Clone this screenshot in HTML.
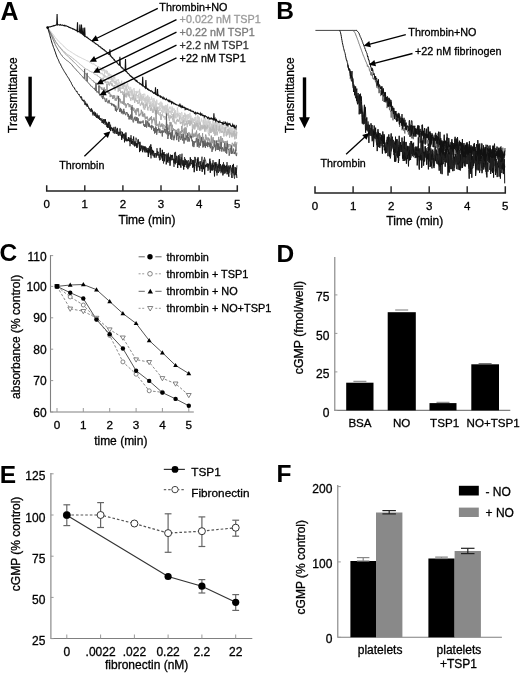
<!DOCTYPE html>
<html><head><meta charset="utf-8"><style>
html,body{margin:0;padding:0;background:#fff;}
svg{display:block;filter:grayscale(100%);}
text{font-family:"Liberation Sans",sans-serif;}
</style></head><body>
<svg width="520" height="673" viewBox="0 0 520 673">
<rect width="520" height="673" fill="#fff"/>
<text x="0.4" y="19.6" font-size="25" text-anchor="start" fill="#000" font-weight="bold">A</text>
<text transform="translate(17.1 95.2) rotate(-90)" font-size="12" text-anchor="middle" fill="#000" stroke="#000" stroke-width="0.3">Transmittance</text>
<rect x="28.4" y="76.7" width="3.4" height="41" fill="#000"/>
<polygon points="24.6,116.6 35.5,116.6 30.05,127.6" fill="#000"/>
<path d="M46.7 185.3V190.9H237.3V185.3" fill="none" stroke="#222" stroke-width="1.5"/>
<line x1="84.8" y1="185.3" x2="84.8" y2="190.9" stroke="#222" stroke-width="1.4"/>
<line x1="122.9" y1="185.3" x2="122.9" y2="190.9" stroke="#222" stroke-width="1.4"/>
<line x1="161" y1="185.3" x2="161" y2="190.9" stroke="#222" stroke-width="1.4"/>
<line x1="199.1" y1="185.3" x2="199.1" y2="190.9" stroke="#222" stroke-width="1.4"/>
<text x="46.7" y="208" font-size="11.5" text-anchor="middle" fill="#000" stroke="#000" stroke-width="0.3">0</text>
<text x="84.8" y="208" font-size="11.5" text-anchor="middle" fill="#000" stroke="#000" stroke-width="0.3">1</text>
<text x="122.9" y="208" font-size="11.5" text-anchor="middle" fill="#000" stroke="#000" stroke-width="0.3">2</text>
<text x="161" y="208" font-size="11.5" text-anchor="middle" fill="#000" stroke="#000" stroke-width="0.3">3</text>
<text x="199.1" y="208" font-size="11.5" text-anchor="middle" fill="#000" stroke="#000" stroke-width="0.3">4</text>
<text x="237.2" y="208" font-size="11.5" text-anchor="middle" fill="#000" stroke="#000" stroke-width="0.3">5</text>
<text x="147" y="224.2" font-size="12" text-anchor="middle" fill="#000" stroke="#000" stroke-width="0.3">Time (min)</text>
<path d="M47.5 27.4L47.9 28L48.2 28.4L48.6 28.7L48.9 29.1L49.3 29.6L49.6 30.1L50 30.5L50.3 30.8L50.7 31.2L51 31.8L51.4 32.2L51.7 32.7L52.1 33.1L52.4 33.5L52.8 34L53.1 34.7L53.5 34.9L53.8 35.4L54.2 35.8L54.5 36.4L54.9 36.9L55.2 37.4L55.6 37.8L55.9 38.3L56.3 38.8L56.6 39.2L57 39.5L57.3 39.7L57.7 40.3L58 40.5L58.4 41L58.7 41.2L59.1 41.7L59.4 42L59.8 42.4L60.1 43L60.5 43.1L60.8 43.5L61.2 43.6L61.5 44.1L61.9 44.5L62.2 44.8L62.6 45.1L62.9 45.4L63.3 45.7L63.6 46.2L64 46.3L64.3 47L64.7 47.1L65 47.5L65.4 47.8L65.7 48.2L66.1 48.4L66.4 48.8L66.8 49L67.1 49.5L67.5 49.7L67.8 49.9L68.2 50L68.5 50.4L68.9 50.6L69.2 51L69.6 51L69.9 51.3L70.3 51.6L70.6 51.7L71 52L71.3 52.2L71.7 52.3L72 52.5L72.4 52.8L72.7 53.1L73.1 53.4L73.4 53.6L73.8 53.8L74.1 54L74.5 54.2L74.8 54.3L75.2 54.6L75.5 54.9L75.9 54.8L76.2 55L76.6 55.5L76.9 55.5L77.3 55.8L77.6 56L78 55.9L78.3 56.6L78.7 56.7L79 56.7L79.4 57L79.7 57.1L80.1 57.1L80.4 57.4L80.8 57.7L81.1 58L81.5 58.1L81.8 58.2L82.2 58.5L82.5 58.4L82.9 58.8L83.2 59L83.6 59L83.9 58.9L84.3 59.2L84.6 59.6L85 59.8L85.3 60.1L85.7 59.9L86 60.2L86.4 60.5L86.7 60.5L87.1 60.4L87.4 61L87.8 61.4L88.1 61.4L88.5 61.2L88.8 61.5L89.2 61.8L89.5 62.5L89.9 62.3L90.2 62.4L90.6 63L90.9 62.7L91.3 63.5L91.6 62.8L92 63.1L92.3 63.7L92.7 64.2L93 64.1L93.4 64.2L93.7 63.4L94.1 64.1L94.4 64.3L94.8 64.5L95.1 65.3L95.5 65L95.8 65.9L96.2 65.7L96.5 65.6L96.9 66.1L97.2 66.5L97.6 67L97.9 66.3L98.3 66.7L98.6 66.1L99 68.5L99.3 68.7L99.7 67.6L100 67.6L100.4 67.2L100.7 68.6L101.1 68.9L101.4 70.9L101.8 69.4L102.1 68.7L102.5 67.5L102.8 71.3L103.2 70.4L103.5 68.9L103.9 70.9L104.2 69.3L104.6 73.8L104.9 72.8L105.3 72.5L105.6 71.9L106 69.9L106.3 72.5L106.7 71.1L107 73.9L107.4 70.9L107.7 72.7L108.1 75.5L108.4 76.3L108.8 73.1L109.1 72.9L109.5 76.2L109.8 76.4L110.2 74.3L110.5 75L110.9 75.2L111.2 74.8L111.6 75.8L111.9 78.7L112.3 78.2L112.6 80.3L113 77.7L113.3 77.9L113.7 77L114 78.5L114.4 77L114.7 76.6L115.1 80.5L115.4 81.9L115.8 81.2L116.1 82.3L116.5 80.9L116.8 79.7L117.2 81.2L117.5 80.7L117.9 79.8L118.2 79.1L118.6 79.7L118.9 82.3L119.3 82.8L119.6 82L120 85.3L120.3 83.5L120.7 84.4L121 85.7L121.4 82.4L121.7 80.7L122.1 85.5L122.4 83.3L122.8 86.9L123.1 85.4L123.5 86.8L123.8 86.6L124.2 81.7L124.5 86.9L124.9 84.6L125.2 84.7L125.6 85.4L125.9 87.8L126.3 88.3L126.6 88.7L127 83.9L127.3 86.1L127.7 83L128 87.4L128.4 88.9L128.7 86.4L129.1 88.6L129.4 88.8L129.8 90.5L130.1 87L130.5 87.2L130.8 87.5L131.2 92.8L131.5 91.6L131.9 89.4L132.2 90.2L132.6 90.2L132.9 90.6L133.3 89.9L133.6 89.8L134 88.1L134.3 89.6L134.7 94.5L135 92.4L135.4 91.6L135.7 91.2L136.1 92L136.4 92.8L136.8 90.9L137.1 92.8L137.5 93.1L137.8 91.2L138.2 91.3L138.5 91.1L138.9 91.1L139.2 95.4L139.6 88.9L139.9 93.4L140.3 92.8L140.6 93L141 94.8L141.3 97.2L141.7 95.1L142 94.9L142.4 94.1L142.7 95.3L143.1 97.8L143.4 95.2L143.8 93.8L144.1 93.7L144.5 94.3L144.8 93.9L145.2 99.5L145.5 98.1L145.9 97L146.2 101L146.6 96.5L146.9 99.9L147.3 100.2L147.6 95.2L148 95.4L148.3 97L148.7 101.3L149 102.3L149.4 96.9L149.7 102.2L150.1 99.2L150.4 99.3L150.8 99.2L151.1 99.9L151.5 96.7L151.8 98.7L152.2 98.4L152.5 102.5L152.9 106.3L153.2 107L153.6 101.1L153.9 98.1L154.3 101.3L154.6 100.3L155 107.2L155.3 104.1L155.7 101.3L156 105.3L156.4 104.6L156.7 99.7L157.1 102.4L157.4 103.3L157.8 104L158.1 104.5L158.5 103.5L158.8 104.9L159.2 103.2L159.5 102.7L159.9 108.5L160.2 105.9L160.6 106.3L160.9 101.6L161.3 105.1L161.6 107.7L162 102.7L162.3 108.6L162.7 105.2L163 107.3L163.4 106.1L163.7 107.1L164.1 109.7L164.4 105.9L164.8 110.9L165.1 105.3L165.5 105.1L165.8 109.3L166.2 105.1L166.5 106.9L166.9 110.2L167.2 111.1L167.6 103.9L167.9 109.7L168.3 113.3L168.6 111.7L169 108.3L169.3 107.5L169.7 108.5L170 106.5L170.4 108.8L170.7 109.2L171.1 109.4L171.4 112.9L171.8 109.5L172.1 106.6L172.5 113L172.8 107.9L173.2 109.6L173.5 110.5L173.9 110.1L174.2 108.6L174.6 110.7L174.9 117L175.3 110.1L175.6 111.4L176 114.7L176.3 113.9L176.7 114.1L177 114.5L177.4 107.5L177.7 110.5L178.1 113.1L178.4 114.2L178.8 116.4L179.1 114.4L179.5 112.8L179.8 113.6L180.2 113.1L180.5 114.4L180.9 115.7L181.2 113.2L181.6 112.2L181.9 112.2L182.3 117.3L182.6 117.9L183 117.4L183.3 117.1L183.7 117.2L184 115.2L184.4 117.1L184.7 112.8L185.1 115.2L185.4 113.9L185.8 117.8L186.1 114.6L186.5 116L186.8 117.4L187.2 120L187.5 114.6L187.9 114.4L188.2 119L188.6 114.2L188.9 118.4L189.3 115.9L189.6 117.2L190 112.9L190.3 119.6L190.7 116.6L191 115.7L191.4 123.5L191.7 120.1L192.1 124.3L192.4 119.6L192.8 117.8L193.1 119.1L193.5 123.1L193.8 119L194.2 120.4L194.5 120.7L194.9 117.1L195.2 119.9L195.6 118.4L195.9 116.6L196.3 122.2L196.6 121.8L197 120.4L197.3 117.9L197.7 115.2L198 121.8L198.4 120.4L198.7 116.4L199.1 120.7L199.4 117L199.8 121L200.1 121.6L200.5 122.2L200.8 122L201.2 121.9L201.5 118.6L201.9 120.7L202.2 120.4L202.6 121.3L202.9 122.7L203.3 123.7L203.6 126.5L204 116.2L204.3 123.4L204.7 121.9L205 128.5L205.4 125.1L205.7 118.4L206.1 123.9L206.4 121.5L206.8 125.6L207.1 120.3L207.5 122.9L207.8 122.9L208.2 123.1L208.5 121.9L208.9 118.6L209.2 124.8L209.6 126.3L209.9 123.6L210.3 121.1L210.6 124.5L211 125.5L211.3 123.6L211.7 124.1L212 128L212.4 121.4L212.7 122.9L213.1 119.4L213.4 122.7L213.8 122.7L214.1 122.2L214.5 123L214.8 129.7L215.2 124.5L215.5 124.8L215.9 131.1L216.2 125.1L216.6 120.7L216.9 126.5L217.3 123L217.6 130L218 122.4L218.3 124.2L218.7 121.6L219 126.2L219.4 123.3L219.7 126L220.1 125.2L220.4 124.6L220.8 128.9L221.1 129L221.5 126.7L221.8 124.2L222.2 123.8L222.5 127.5L222.9 133.1L223.2 125.7L223.6 124.9L223.9 125.2L224.3 124.2L224.6 124.6L225 126.8L225.3 131.3L225.7 127.5L226 126.2L226.4 123.3L226.7 128.3L227.1 127.7L227.4 124.5L227.8 125L228.1 127.9L228.5 130.9L228.8 129.9L229.2 128.8L229.5 127.5L229.9 129.3L230.2 128.5L230.6 134.5L230.9 125.6L231.3 127.7L231.6 132.3L232 128.1L232.3 132.8L232.7 128.9L233 129.5L233.4 128.2L233.7 125.5L234.1 126.7L234.4 135.5L234.8 131.3L235.1 131.2L235.5 132.3L235.8 131.3L236.2 132.6L236.5 129.2L236.9 129.4" stroke="#d0d0d0" stroke-width="1" fill="none"/>
<path d="M95 68.2L95.3 69.3L95.7 69.2L96 69.3L96.4 70.4L96.7 70L97.1 70L97.4 71.6L97.8 70.3L98.1 69.9L98.5 70L98.8 70.9L99.2 72L99.5 72.4L99.9 72.9L100.2 73.7L100.6 73.9L100.9 73.2L101.3 74.1L101.6 73.7L102 72.8L102.3 74.4L102.7 73.9L103 73.9L103.4 76.4L103.7 75.4L104.1 74.3L104.4 75L104.8 77.8L105.1 75.3L105.5 76.7L105.8 76.8L106.2 76.9L106.5 77.3L106.9 76.3L107.2 76.6L107.6 77.2L107.9 77.2L108.3 78.9L108.6 80L109 77.2L109.3 79.3L109.7 77.6L110 78.2L110.4 79L110.7 79.7L111.1 79.3L111.4 77L111.8 82.2L112.1 80.2L112.5 80L112.8 82.1L113.2 80.5L113.5 79.6L113.9 82.6L114.2 82.7L114.6 81.2L114.9 83.9L115.3 83.4L115.6 81.4L116 86L116.3 84L116.7 82.1L117 84.8L117.4 84.6L117.7 86.1L118.1 82.7L118.4 86.7L118.8 86.8L119.1 86.7L119.5 86.8L119.8 88.2L120.2 87.4L120.5 86.7L120.9 85.2L121.2 88.8L121.6 88.8L121.9 87.8L122.3 87.8L122.6 89L123 83.9L123.3 88.7L123.7 84.2L124 89L124.4 90.8L124.7 92.5L125.1 88.4L125.4 90.3L125.8 89.5L126.1 85.7L126.5 91.5L126.8 90.3L127.2 90.6L127.5 88.9L127.9 90.8L128.2 91.3L128.6 93.9L128.9 92.1L129.3 96.2L129.6 91.1L130 91.6L130.3 92.3L130.7 90.9L131 95.9L131.4 94.3L131.7 90.6L132.1 93.6L132.4 96L132.8 90.9L133.1 94.3L133.5 93.8L133.8 99.1L134.2 95.5L134.5 94L134.9 93.9L135.2 99.2L135.6 94.5L135.9 100.4L136.3 92.6L136.6 95.7L137 95.8L137.3 95L137.7 96.3L138 98.4L138.4 95.7L138.7 94.3L139.1 100.4L139.4 100.9L139.8 96.5L140.1 98.8L140.5 93.4L140.8 100.9L141.2 95.9L141.5 97.8L141.9 104L142.2 96.7L142.6 99.7L142.9 97.6L143.3 96.1L143.6 97.8L144 101.1L144.3 97.9L144.7 99.7L145 102.8L145.4 101.1L145.7 98.7L146.1 105.2L146.4 102.3L146.8 105.4L147.1 100.1L147.5 106.5L147.8 99.8L148.2 99.1L148.5 102.3L148.9 102.6L149.2 104.3L149.6 102.6L149.9 105.5L150.3 107.3L150.6 103L151 101.5L151.3 103.9L151.7 106.9L152 107.1L152.4 104.6L152.7 103.3L153.1 105.7L153.4 108.2L153.8 104.5L154.1 109.4L154.5 107L154.8 107.4L155.2 105.4L155.5 110.3L155.9 107.3L156.2 103.9L156.6 109.5L156.9 106.7L157.3 110.5L157.6 108.5L158 106.7L158.3 108.8L158.7 107.4L159 106.7L159.4 108.9L159.7 111L160.1 109.3L160.4 109.1L160.8 108.1L161.1 111L161.5 110.4L161.8 112.2L162.2 110.9L162.5 115.3L162.9 106.5L163.2 110.3L163.6 111.9L163.9 112.9L164.3 107.1L164.6 108L165 111L165.3 113.9L165.7 114.2L166 107.8L166.4 112L166.7 114.8L167.1 112.1L167.4 109.6L167.8 110.5L168.1 109.1L168.5 115.6L168.8 112.1L169.2 111.8L169.5 110.8L169.9 112.8L170.2 111L170.6 110.9L170.9 113.5L171.3 113.1L171.6 115L172 114.3L172.3 117.1L172.7 114.1L173 115.1L173.4 115.1L173.7 112.6L174.1 117.8L174.4 113.5L174.8 111.1L175.1 118.4L175.5 117L175.8 114.1L176.2 118.1L176.5 118.2L176.9 117.7L177.2 113L177.6 116.6L177.9 113.7L178.3 114.9L178.6 115.1L179 114.6L179.3 118.1L179.7 115L180 118.7L180.4 117.7L180.7 115.8L181.1 118L181.4 119.4L181.8 120.7L182.1 117.3L182.5 122.5L182.8 119.7L183.2 121.5L183.5 115L183.9 115.9L184.2 121.8L184.6 118.3L184.9 120.2L185.3 122.2L185.6 115.5L186 120.5L186.3 124.5L186.7 121.7L187 120L187.4 121.4L187.7 120L188.1 122.2L188.4 123.7L188.8 119.8L189.1 122L189.5 121.5L189.8 122.7L190.2 123.1L190.5 118.3L190.9 124.2L191.2 123.5L191.6 118.6L191.9 120.8L192.3 117.9L192.6 121L193 122.8L193.3 119L193.7 120.1L194 120L194.4 120.6L194.7 120.5L195.1 119.8L195.4 124.2L195.8 122.3L196.1 120.8L196.5 125.7L196.8 121.7L197.2 125.7L197.5 120.2L197.9 127.3L198.2 122.5L198.6 121.3L198.9 125L199.3 120.5L199.6 121.3L200 124.8L200.3 123L200.7 125.5L201 124.9L201.4 125.3L201.7 125.1L202.1 126.7L202.4 124.9L202.8 127.9L203.1 127.6L203.5 120L203.8 120.7L204.2 129.5L204.5 124.3L204.9 126.1L205.2 125.4L205.6 126.5L205.9 131.7L206.3 124.1L206.6 126.2L207 126.2L207.3 123.4L207.7 124L208 125.7L208.4 126.5L208.7 127.6L209.1 121.5L209.4 122.6L209.8 131.2L210.1 126.5L210.5 129.2L210.8 126L211.2 125.3L211.5 132.9L211.9 124.1L212.2 125L212.6 129.3L212.9 127.7L213.3 123.3L213.6 128.2L214 129.8L214.3 123.9L214.7 126.5L215 130.2L215.4 133.3L215.7 122L216.1 126.5L216.4 128.5L216.8 126.1L217.1 126.2L217.5 127.3L217.8 130.1L218.2 126L218.5 131.2L218.9 131.2L219.2 131.4L219.6 133.3L219.9 127.8L220.3 129.1L220.6 132.1L221 132.9L221.3 132L221.7 128.4L222 128.3L222.4 126.2L222.7 128.6L223.1 127.4L223.4 128.6L223.8 129L224.1 132.3L224.5 132.5L224.8 130.1L225.2 127.2L225.5 130.2L225.9 131.6L226.2 132.8L226.6 131.1L226.9 132.8L227.3 128.9L227.6 132.5L228 132.8L228.3 129.9L228.7 128.9L229 134.4L229.4 128.4L229.7 133L230.1 130.5L230.4 130.4L230.8 130.7L231.1 130.2L231.5 131.4L231.8 136.5L232.2 135.6L232.5 131.3L232.9 133.1L233.2 134.3L233.6 130.8L233.9 137L234.3 132.1L234.6 133.8L235 129.6L235.3 129.2L235.7 129.6L236 130.6L236.4 135.3L236.7 131.7" stroke="#cacaca" stroke-width="1" fill="none"/>
<path d="M47.5 27.5L47.9 28.2L48.2 28.6L48.6 29.1L48.9 29.8L49.3 30.4L49.6 31L50 31.6L50.3 32.1L50.7 32.7L51 33.2L51.4 33.9L51.7 34.5L52.1 35.2L52.4 35.8L52.8 36.2L53.1 37.1L53.5 37.7L53.8 38.4L54.2 39.1L54.5 39.7L54.9 40.2L55.2 41L55.6 41.4L55.9 42.3L56.3 42.6L56.6 43.1L57 43.8L57.3 43.9L57.7 44.6L58 44.9L58.4 45.4L58.7 45.8L59.1 46.4L59.4 46.7L59.8 47.2L60.1 47.6L60.5 47.8L60.8 48.4L61.2 48.7L61.5 48.9L61.9 49.3L62.2 49.9L62.6 50.2L62.9 50.4L63.3 50.8L63.6 51.1L64 51.5L64.3 51.7L64.7 52.1L65 52.2L65.4 52.5L65.7 53L66.1 53.3L66.4 53.5L66.8 53.8L67.1 54L67.5 54.4L67.8 54.7L68.2 54.9L68.5 55.2L68.9 55.3L69.2 55.5L69.6 55.6L69.9 56.1L70.3 56.3L70.6 56.7L71 56.6L71.3 57L71.7 57.3L72 57.4L72.4 58L72.7 58.3L73.1 58.3L73.4 58.8L73.8 59.2L74.1 59.1L74.5 59.7L74.8 60L75.2 60.4L75.5 60.2L75.9 60.6L76.2 61L76.6 61.4L76.9 61.4L77.3 61.8L77.6 62L78 62.6L78.3 62.7L78.7 63.2L79 63.5L79.4 63.8L79.7 64L80.1 64.3L80.4 64.7L80.8 64.9L81.1 65L81.5 65.4L81.8 65.9L82.2 66L82.5 66.3L82.9 66.6L83.2 67.2L83.6 67.1L83.9 67.5L84.3 67.7L84.6 67.9L85 68.4L85.3 68.6L85.7 68.8L86 68.7L86.4 69.3L86.7 69.5L87.1 69.6L87.4 69.4L87.8 70L88.1 70L88.5 70.3L88.8 70.4L89.2 70.5L89.5 71.1L89.9 71.1L90.2 71.6L90.6 71.1L90.9 71.5L91.3 72.2L91.6 72.1L92 71.9L92.3 72L92.7 72.3L93 72.7L93.4 73.3L93.7 73.3L94.1 73.8L94.4 74.1L94.8 74L95.1 74.9L95.5 74.8L95.8 74.5L96.2 74.8L96.5 75.1L96.9 74.9L97.2 74.7L97.6 75.9L97.9 75.8L98.3 76.8L98.6 76.2L99 77L99.3 77.3L99.7 77L100 77.8L100.4 77.2L100.7 77.7L101.1 79L101.4 78.9L101.8 78.8L102.1 78.2L102.5 79.9L102.8 81.5L103.2 77.5L103.5 81L103.9 80.4L104.2 81.6L104.6 81.9L104.9 79.7L105.3 83.1L105.6 80.6L106 81.3L106.3 82.5L106.7 81.9L107 82.5L107.4 81.8L107.7 81.4L108.1 82.9L108.4 81.8L108.8 85.1L109.1 83.9L109.5 85.6L109.8 82.4L110.2 81.5L110.5 81.4L110.9 84.2L111.2 83.1L111.6 85.6L111.9 83.3L112.3 83.6L112.6 86.1L113 85.4L113.3 87.1L113.7 87.5L114 87.1L114.4 85L114.7 85.7L115.1 90.4L115.4 87L115.8 88L116.1 88L116.5 88L116.8 87.9L117.2 87.5L117.5 87.8L117.9 85.6L118.2 91.8L118.6 89.1L118.9 87.3L119.3 90.6L119.6 91L120 87.7L120.3 89.5L120.7 93.1L121 91.7L121.4 91.8L121.7 93L122.1 91.3L122.4 91.2L122.8 94.8L123.1 91.8L123.5 92.3L123.8 93.8L124.2 92.9L124.5 90.8L124.9 96.8L125.2 93.4L125.6 97.2L125.9 95L126.3 92.5L126.6 97.4L127 94.4L127.3 93.3L127.7 95.1L128 91.2L128.4 96.4L128.7 94.4L129.1 95.6L129.4 94.5L129.8 97.9L130.1 97.5L130.5 99.2L130.8 100.7L131.2 98.1L131.5 97.9L131.9 98.6L132.2 96.5L132.6 97.3L132.9 100.2L133.3 97.1L133.6 95L134 98.6L134.3 100.1L134.7 102.9L135 98.5L135.4 98.2L135.7 100.7L136.1 100.4L136.4 101.4L136.8 100L137.1 101.8L137.5 100.3L137.8 103.9L138.2 102.6L138.5 103.5L138.9 101.5L139.2 99.6L139.6 103L139.9 103L140.3 105.8L140.6 105.7L141 103.7L141.3 103.9L141.7 102.1L142 104.4L142.4 105.2L142.7 104L143.1 102.7L143.4 108.2L143.8 103.5L144.1 109.5L144.5 108.6L144.8 109.6L145.2 104.5L145.5 108L145.9 103.7L146.2 106.2L146.6 103.8L146.9 105.8L147.3 106.5L147.6 110L148 110.5L148.3 107.4L148.7 107.8L149 106.5L149.4 106.2L149.7 105L150.1 108.7L150.4 110.8L150.8 107.9L151.1 110.7L151.5 107.3L151.8 107.9L152.2 109.2L152.5 112.6L152.9 109.5L153.2 112.7L153.6 110.3L153.9 108.7L154.3 106.8L154.6 110.6L155 109.6L155.3 114.2L155.7 113.3L156 108.5L156.4 114.6L156.7 114L157.1 107.3L157.4 110.6L157.8 113.8L158.1 109.6L158.5 111.8L158.8 115L159.2 114.5L159.5 115.1L159.9 115.6L160.2 112.2L160.6 119.7L160.9 115.8L161.3 119.9L161.6 114.2L162 116.3L162.3 115.9L162.7 114.9L163 116.1L163.4 116.1L163.7 117.6L164.1 116.5L164.4 116L164.8 117.2L165.1 119.7L165.5 116.5L165.8 117.9L166.2 116.9L166.5 111.8L166.9 114.6L167.2 114.7L167.6 113.6L167.9 115.7L168.3 113L168.6 118.2L169 116.3L169.3 120.8L169.7 118.9L170 114.8L170.4 117.6L170.7 118.4L171.1 116.7L171.4 117.6L171.8 115.9L172.1 117L172.5 119.6L172.8 118.2L173.2 122.2L173.5 114L173.9 117.4L174.2 118.6L174.6 123.4L174.9 122.7L175.3 121.9L175.6 122.6L176 124.3L176.3 122.1L176.7 119.9L177 121.1L177.4 118.9L177.7 120.3L178.1 121.9L178.4 119.8L178.8 121.5L179.1 120.2L179.5 118.1L179.8 117.9L180.2 123.5L180.5 121.9L180.9 124.1L181.2 121.8L181.6 122.2L181.9 123L182.3 121.6L182.6 126.1L183 125.2L183.3 123.8L183.7 120.2L184 121.7L184.4 123.7L184.7 126.2L185.1 123.3L185.4 123.4L185.8 125L186.1 124L186.5 123.4L186.8 121.1L187.2 127.2L187.5 124.1L187.9 123L188.2 124.2L188.6 121.1L188.9 120.3L189.3 120.2L189.6 125.8L190 121.6L190.3 125.4L190.7 122.1L191 120.7L191.4 123.8L191.7 123.6L192.1 123.9L192.4 130.2L192.8 126.4L193.1 124.4L193.5 128.3L193.8 125.4L194.2 129.4L194.5 122.4L194.9 129.3L195.2 123.8L195.6 124.8L195.9 127.3L196.3 124.1L196.6 122.8L197 126.1L197.3 126.4L197.7 123L198 129.9L198.4 125.3L198.7 126L199.1 127.1L199.4 127.9L199.8 130.6L200.1 122.3L200.5 128L200.8 130.4L201.2 128.8L201.5 128L201.9 125.4L202.2 129.3L202.6 127.2L202.9 128.9L203.3 125.9L203.6 127.9L204 128.4L204.3 125L204.7 131.6L205 128.7L205.4 125.7L205.7 128.5L206.1 129.5L206.4 128.4L206.8 126.6L207.1 128.8L207.5 125.9L207.8 125.2L208.2 132.7L208.5 134.2L208.9 134.7L209.2 135.8L209.6 133.5L209.9 127.5L210.3 128.5L210.6 133L211 128.9L211.3 129.3L211.7 130.3L212 131.5L212.4 126.8L212.7 130.6L213.1 131.9L213.4 125.2L213.8 133.7L214.1 132.9L214.5 128.7L214.8 135.8L215.2 132.2L215.5 132.4L215.9 135.3L216.2 125.1L216.6 131.4L216.9 134.3L217.3 135.3L217.6 131.5L218 131.1L218.3 129.6L218.7 130.9L219 129.5L219.4 125.7L219.7 130.4L220.1 129.4L220.4 130.5L220.8 131L221.1 131L221.5 132.6L221.8 132.2L222.2 131.5L222.5 130.9L222.9 132.4L223.2 131.9L223.6 132.4L223.9 136.6L224.3 133.6L224.6 131.9L225 127.5L225.3 129.2L225.7 127L226 135.7L226.4 136.3L226.7 132.3L227.1 132.2L227.4 134.8L227.8 135.2L228.1 129L228.5 133.1L228.8 133L229.2 130.5L229.5 137.8L229.9 136.1L230.2 132.5L230.6 134.1L230.9 132.8L231.3 132.9L231.6 133.3L232 137.3L232.3 134.6L232.7 133.3L233 132.8L233.4 135.5L233.7 132.4L234.1 130.5L234.4 134.6L234.8 139.4L235.1 133.2L235.5 135.6L235.8 134.7L236.2 138.7L236.5 136.7L236.9 132" stroke="#b8b8b8" stroke-width="1" fill="none"/>
<path d="M47.5 27.6L47.9 28.2L48.2 28.6L48.6 29.1L48.9 29.8L49.3 30.5L49.6 31L50 31.4L50.3 32.1L50.7 32.8L51 33.2L51.4 34L51.7 34.5L52.1 35.1L52.4 35.8L52.8 36.3L53.1 37L53.5 37.8L53.8 38.3L54.2 38.9L54.5 39.5L54.9 40.2L55.2 41L55.6 41.6L55.9 42.1L56.3 42.7L56.6 43.2L57 43.7L57.3 44.2L57.7 44.6L58 45.2L58.4 45.5L58.7 45.8L59.1 46.3L59.4 46.9L59.8 47.3L60.1 47.7L60.5 48.1L60.8 48.7L61.2 49.1L61.5 49.6L61.9 49.8L62.2 50.3L62.6 50.8L62.9 51.2L63.3 51.7L63.6 51.9L64 52.3L64.3 52.7L64.7 53.1L65 53.5L65.4 53.9L65.7 54.3L66.1 54.6L66.4 54.9L66.8 55.3L67.1 55.5L67.5 56L67.8 56.2L68.2 56.6L68.5 56.8L68.9 57.3L69.2 57.5L69.6 57.9L69.9 58.1L70.3 58.5L70.6 59L71 59L71.3 59.6L71.7 59.9L72 60.1L72.4 60.4L72.7 61.1L73.1 61.2L73.4 61.7L73.8 61.9L74.1 62.1L74.5 62.7L74.8 63L75.2 63.2L75.5 63.6L75.9 64L76.2 64.2L76.6 64.6L76.9 65L77.3 65.5L77.6 65.8L78 66.1L78.3 66.6L78.7 66.7L79 67L79.4 67.8L79.7 67.7L80.1 68.2L80.4 68.6L80.8 68.9L81.1 69.2L81.5 69.7L81.8 70L82.2 70.2L82.5 70.7L82.9 71.2L83.2 71.5L83.6 71.7L83.9 72.1L84.3 72.3L84.6 72.6L85 73.1L85.3 73.7L85.7 73.8L86 73.9L86.4 74.6L86.7 74.8L87.1 75.4L87.4 75.8L87.8 75.9L88.1 76.3L88.5 76.5L88.8 77.2L89.2 77.2L89.5 77.7L89.9 78.6L90.2 78.1L90.6 78.7L90.9 79L91.3 79.5L91.6 79.8L92 80.5L92.3 80.5L92.7 80.9L93 80.4L93.4 81.5L93.7 81L94.1 82.5L94.4 82.2L94.8 83L95.1 82.6L95.5 83.3L95.8 83.5L96.2 84L96.5 83.9L96.9 83.9L97.2 84.3L97.6 84.4L97.9 84.5L98.3 84.5L98.6 84.6L99 87.3L99.3 85.7L99.7 85.6L100 87.5L100.4 87.2L100.7 87.2L101.1 88.5L101.4 89.4L101.8 87.3L102.1 89.6L102.5 89.1L102.8 89.9L103.2 88.6L103.5 91L103.9 90.8L104.2 87.4L104.6 91.4L104.9 91.8L105.3 89.1L105.6 91.2L106 90.9L106.3 91.6L106.7 90.6L107 83.6L107.4 93L107.7 92.2L108.1 92.5L108.4 90.8L108.8 93.8L109.1 91.8L109.5 93.6L109.8 92.9L110.2 97.1L110.5 94.4L110.9 96.6L111.2 94.8L111.6 95.1L111.9 96.4L112.3 95.6L112.6 99L113 95.9L113.3 98.6L113.7 95L114 95.7L114.4 98.1L114.7 95.5L115.1 100.5L115.4 98.7L115.8 98.3L116.1 101L116.5 97.9L116.8 97.8L117.2 95.6L117.5 96.4L117.9 99.2L118.2 96.7L118.6 101.3L118.9 101.8L119.3 101.3L119.6 98.2L120 99.6L120.3 99L120.7 102.6L121 103.3L121.4 101.5L121.7 102.2L122.1 102.7L122.4 103.8L122.8 101.2L123.1 101.3L123.5 104.5L123.8 94.3L124.2 94.4L124.5 103.9L124.9 105.4L125.2 105.1L125.6 103.4L125.9 107.8L126.3 106.9L126.6 104.6L127 105.1L127.3 104.2L127.7 103.1L128 103.9L128.4 103.4L128.7 105.1L129.1 107.2L129.4 106.6L129.8 104.1L130.1 106.8L130.5 106.1L130.8 105.4L131.2 110L131.5 105.9L131.9 110L132.2 105L132.6 109.2L132.9 107.4L133.3 111L133.6 110L134 107.9L134.3 110.9L134.7 112.4L135 112.8L135.4 113.3L135.7 109.7L136.1 115.1L136.4 109.7L136.8 110.8L137.1 108.1L137.5 111.1L137.8 108.7L138.2 112.2L138.5 108.5L138.9 116.2L139.2 114.2L139.6 116.1L139.9 115.4L140.3 113.5L140.6 114.4L141 114L141.3 109.8L141.7 111.5L142 113.4L142.4 116.5L142.7 111.7L143.1 115.3L143.4 113.9L143.8 116.9L144.1 117.2L144.5 113.5L144.8 113.5L145.2 119.4L145.5 118.7L145.9 116.6L146.2 118.7L146.6 117.2L146.9 118.3L147.3 116.6L147.6 118.9L148 121.6L148.3 121.3L148.7 121.1L149 118.8L149.4 120.8L149.7 117.9L150.1 118.4L150.4 119.6L150.8 117L151.1 120.1L151.5 116L151.8 123.7L152.2 122.1L152.5 121.1L152.9 119L153.2 119.5L153.6 120.1L153.9 117.4L154.3 120.4L154.6 119.5L155 123.7L155.3 125L155.7 125.5L156 110.2L156.4 119.3L156.7 125.9L157.1 124.6L157.4 125.4L157.8 124.7L158.1 123.8L158.5 128.4L158.8 125.6L159.2 125.3L159.5 121.5L159.9 124.4L160.2 127.3L160.6 125.6L160.9 126.6L161.3 124.1L161.6 126.4L162 123.4L162.3 124.5L162.7 127.6L163 129.3L163.4 124.5L163.7 124.9L164.1 125L164.4 125.2L164.8 125.9L165.1 128.1L165.5 126.9L165.8 126.2L166.2 127.4L166.5 122.1L166.9 126.2L167.2 131.6L167.6 124.3L167.9 125.5L168.3 127.7L168.6 129.7L169 126.7L169.3 124.9L169.7 131.4L170 121.9L170.4 125.6L170.7 126.1L171.1 122.3L171.4 131.6L171.8 133.2L172.1 124.7L172.5 127.5L172.8 128.1L173.2 130.6L173.5 128.5L173.9 130.5L174.2 130.4L174.6 129L174.9 129.6L175.3 133.1L175.6 130.1L176 131.4L176.3 129.9L176.7 131.9L177 134.3L177.4 130.5L177.7 129.2L178.1 128.7L178.4 133.2L178.8 128.8L179.1 132.1L179.5 136.8L179.8 131.7L180.2 135.8L180.5 131.4L180.9 131.3L181.2 133.1L181.6 129.5L181.9 125.9L182.3 131.8L182.6 130.2L183 132.7L183.3 137.3L183.7 134L184 128.6L184.4 133.7L184.7 128.2L185.1 127.3L185.4 138.5L185.8 130.7L186.1 127.6L186.5 133.1L186.8 132.9L187.2 134.8L187.5 133.2L187.9 133.3L188.2 136.1L188.6 133.6L188.9 132.2L189.3 135.2L189.6 132.9L190 137.3L190.3 134.7L190.7 134.2L191 133.7L191.4 136.5L191.7 137.7L192.1 134.4L192.4 129.5L192.8 137.4L193.1 133.5L193.5 137.2L193.8 134.1L194.2 136.9L194.5 135.2L194.9 133.9L195.2 132.7L195.6 136L195.9 136.7L196.3 132.1L196.6 130.5L197 137.3L197.3 142.5L197.7 134.7L198 136.2L198.4 134.2L198.7 133.8L199.1 141.2L199.4 133L199.8 138.1L200.1 135.6L200.5 139.2L200.8 141.8L201.2 138.2L201.5 137.1L201.9 140.9L202.2 137.2L202.6 133.2L202.9 141.8L203.3 136.9L203.6 139L204 144.4L204.3 141.1L204.7 139.5L205 143.2L205.4 136.5L205.7 134.5L206.1 136L206.4 139.3L206.8 139.8L207.1 137.4L207.5 145.1L207.8 141.6L208.2 140L208.5 137.7L208.9 139.5L209.2 140.5L209.6 138.8L209.9 145.9L210.3 144.6L210.6 141.9L211 140.2L211.3 135.6L211.7 143.2L212 138.5L212.4 143.3L212.7 141.7L213.1 137.1L213.4 140.9L213.8 140.3L214.1 140.3L214.5 140.7L214.8 141.3L215.2 140.6L215.5 143.5L215.9 142.8L216.2 141L216.6 141.1L216.9 140.7L217.3 140.6L217.6 141.3L218 142.4L218.3 141L218.7 136.9L219 142.2L219.4 139.7L219.7 142.1L220.1 148.4L220.4 145.1L220.8 136.2L221.1 137.7L221.5 145.3L221.8 140.5L222.2 138.4L222.5 138L222.9 142.5L223.2 140.7L223.6 143L223.9 142.3L224.3 143.2L224.6 142.1L225 141.1L225.3 145.4L225.7 147.8L226 141.2L226.4 143.2L226.7 149.3L227.1 140.8L227.4 140.8L227.8 145.5L228.1 146.6L228.5 144.1L228.8 147.4L229.2 144L229.5 145L229.9 144.4L230.2 145.4L230.6 144.7L230.9 148.7L231.3 146.8L231.6 149.4L232 144.5L232.3 142.8L232.7 143.4L233 144L233.4 146.2L233.7 144.1L234.1 146.2L234.4 146.7L234.8 142.3L235.1 141.7L235.5 149.4L235.8 144L236.2 151.1L236.5 145.1L236.9 142.2" stroke="#969696" stroke-width="1" fill="none"/>
<path d="M47.5 27.5L47.9 28.2L48.2 29L48.6 29.7L48.9 30.5L49.3 31.2L49.6 32L50 32.6L50.3 33.6L50.7 33.9L51 34.9L51.4 35.7L51.7 36.3L52.1 37L52.4 37.9L52.8 38.7L53.1 39.6L53.5 40.2L53.8 41.2L54.2 41.9L54.5 42.9L54.9 43.5L55.2 44.4L55.6 45.2L55.9 45.8L56.3 46.6L56.6 47.1L57 47.8L57.3 48.2L57.7 49L58 49.6L58.4 50.2L58.7 51L59.1 51.2L59.4 51.7L59.8 52.5L60.1 53.1L60.5 53.6L60.8 54.2L61.2 54.8L61.5 55L61.9 55.4L62.2 56L62.6 56.6L62.9 56.9L63.3 57.3L63.6 57.7L64 58.1L64.3 58.2L64.7 58.7L65 58.9L65.4 59.3L65.7 59.5L66.1 59.8L66.4 60.2L66.8 60.3L67.1 60.6L67.5 61L67.8 61.2L68.2 61.3L68.5 61.8L68.9 61.9L69.2 62.2L69.6 62.6L69.9 63.1L70.3 63.1L70.6 63.5L71 64L71.3 64.2L71.7 64.7L72 65.3L72.4 65.3L72.7 65.9L73.1 66.2L73.4 67L73.8 67.2L74.1 67.6L74.5 67.9L74.8 68.2L75.2 68.7L75.5 69.1L75.9 69.5L76.2 70.1L76.6 70.4L76.9 70.5L77.3 71L77.6 71.4L78 71.6L78.3 72.1L78.7 72.5L79 73L79.4 73.3L79.7 73.6L80.1 74.3L80.4 74.4L80.8 74.9L81.1 75.1L81.5 75.5L81.8 75.9L82.2 76.3L82.5 76.9L82.9 76.9L83.2 77.8L83.6 77.7L83.9 78.5L84.3 78.7L84.6 68.9L85 79.5L85.3 79.7L85.7 80.1L86 80.5L86.4 81.2L86.7 81.1L87.1 72.9L87.4 81.9L87.8 82.2L88.1 82.6L88.5 83.3L88.8 83.4L89.2 83.6L89.5 84.3L89.9 84.6L90.2 85.2L90.6 84.9L90.9 86.1L91.3 86.4L91.6 86.1L92 86.5L92.3 87.2L92.7 87.3L93 88.1L93.4 88.4L93.7 88.4L94.1 88.2L94.4 88.1L94.8 89.6L95.1 89.1L95.5 90.8L95.8 83.6L96.2 82.9L96.5 91.8L96.9 92.4L97.2 92.4L97.6 91.4L97.9 91.8L98.3 92.5L98.6 93.3L99 85.9L99.3 94L99.7 95.3L100 94.2L100.4 94.9L100.7 94.3L101.1 95.4L101.4 96.7L101.8 97.4L102.1 96.7L102.5 96L102.8 99.1L103.2 95.2L103.5 97.2L103.9 97.2L104.2 98.3L104.6 99.2L104.9 98.4L105.3 101.8L105.6 101.9L106 100.8L106.3 99.5L106.7 98.5L107 102.1L107.4 102L107.7 101.8L108.1 103.3L108.4 102.4L108.8 100.3L109.1 99.9L109.5 102.2L109.8 103.1L110.2 104L110.5 103.9L110.9 103.5L111.2 102.9L111.6 105.1L111.9 105.6L112.3 104L112.6 103.7L113 104.8L113.3 104.2L113.7 106.2L114 104.4L114.4 106.9L114.7 105.4L115.1 107.7L115.4 110.7L115.8 105.7L116.1 107.9L116.5 111.6L116.8 109.7L117.2 108.8L117.5 109.6L117.9 108.5L118.2 106.9L118.6 95.9L118.9 108.5L119.3 108.9L119.6 112L120 110.8L120.3 107.9L120.7 111.6L121 108.8L121.4 113.3L121.7 109.6L122.1 113.2L122.4 112.1L122.8 111.2L123.1 114.3L123.5 112.1L123.8 108.8L124.2 113.7L124.5 111.4L124.9 112.6L125.2 114L125.6 115.2L125.9 114.3L126.3 112.2L126.6 113L127 112.3L127.3 114.3L127.7 113.6L128 116.7L128.4 114L128.7 117.5L129.1 119.5L129.4 117L129.8 115.8L130.1 118.9L130.5 114.7L130.8 116.6L131.2 119.8L131.5 118.4L131.9 107L132.2 116.9L132.6 116.7L132.9 121.1L133.3 122.4L133.6 121.5L134 118.6L134.3 119.4L134.7 117.1L135 116.7L135.4 120.7L135.7 120.9L136.1 116.9L136.4 117.2L136.8 120.8L137.1 117.3L137.5 122.8L137.8 123.3L138.2 118.3L138.5 120.3L138.9 123.2L139.2 123.6L139.6 121.5L139.9 121.5L140.3 121.3L140.6 123.4L141 123.6L141.3 122L141.7 121.5L142 122.6L142.4 122.6L142.7 122.2L143.1 120.5L143.4 123.7L143.8 125.6L144.1 124.1L144.5 126.9L144.8 125.2L145.2 126.2L145.5 126.6L145.9 120.2L146.2 126.6L146.6 127.6L146.9 122.6L147.3 121.2L147.6 123.3L148 125.1L148.3 126.8L148.7 122.5L149 125.8L149.4 123.7L149.7 127.1L150.1 126.4L150.4 127.4L150.8 125.7L151.1 126.1L151.5 129.5L151.8 124.8L152.2 127.6L152.5 126.4L152.9 127.2L153.2 126.3L153.6 131.1L153.9 130.8L154.3 127.9L154.6 133.5L155 129.4L155.3 132.7L155.7 126.5L156 128L156.4 127.9L156.7 134.7L157.1 132.1L157.4 129L157.8 130.7L158.1 129.9L158.5 130L158.8 128.1L159.2 132.8L159.5 131.6L159.9 128.8L160.2 131.8L160.6 133.2L160.9 131.7L161.3 130.5L161.6 132.9L162 133.3L162.3 136.5L162.7 130.4L163 132.7L163.4 131.9L163.7 130.8L164.1 132.3L164.4 128.7L164.8 130.3L165.1 128.9L165.5 133.2L165.8 131.6L166.2 130.3L166.5 113.7L166.9 134.3L167.2 132L167.6 127.7L167.9 139L168.3 132.5L168.6 135.8L169 130.9L169.3 132.7L169.7 134.1L170 134.6L170.4 132.7L170.7 138.8L171.1 132.4L171.4 133.4L171.8 140L172.1 135L172.5 130.3L172.8 136.6L173.2 136.4L173.5 138.6L173.9 140.3L174.2 135.5L174.6 138.3L174.9 135.7L175.3 133.2L175.6 133.5L176 133.4L176.3 131.9L176.7 140.1L177 134.2L177.4 132.8L177.7 136.1L178.1 133.1L178.4 139.4L178.8 141.7L179.1 138L179.5 136.6L179.8 136L180.2 138.4L180.5 139.6L180.9 139.9L181.2 136.3L181.6 138.2L181.9 133.8L182.3 138.3L182.6 140.3L183 140.8L183.3 135.5L183.7 134.2L184 143.6L184.4 138.4L184.7 137.8L185.1 139.4L185.4 138L185.8 140.2L186.1 140.4L186.5 137.1L186.8 135.3L187.2 137.7L187.5 133.5L187.9 141.7L188.2 137.7L188.6 136.8L188.9 140.7L189.3 141.5L189.6 138.9L190 137.5L190.3 135.5L190.7 137.7L191 138.2L191.4 136.1L191.7 139.9L192.1 141.4L192.4 139.8L192.8 146.4L193.1 141L193.5 142.4L193.8 147.1L194.2 145.7L194.5 141.6L194.9 142.5L195.2 141.1L195.6 142.3L195.9 141.3L196.3 137.9L196.6 138.2L197 144L197.3 146.8L197.7 142.8L198 139.6L198.4 139L198.7 146.5L199.1 147.6L199.4 145.7L199.8 142.5L200.1 141.5L200.5 145.8L200.8 142.3L201.2 140.3L201.5 137.2L201.9 141.6L202.2 142.8L202.6 141L202.9 147.5L203.3 141.2L203.6 146.8L204 144.3L204.3 143.3L204.7 146.2L205 140.7L205.4 147.9L205.7 142.8L206.1 143.1L206.4 145.9L206.8 145.2L207.1 142.3L207.5 147.1L207.8 142L208.2 144.9L208.5 142.8L208.9 144.7L209.2 146.9L209.6 144.7L209.9 142.7L210.3 148.3L210.6 146.9L211 143.3L211.3 144.3L211.7 144.2L212 151.9L212.4 146.4L212.7 150.1L213.1 147.9L213.4 148.3L213.8 146.7L214.1 140.6L214.5 145.8L214.8 147.2L215.2 144.4L215.5 151.1L215.9 146.9L216.2 146.6L216.6 140.7L216.9 149.6L217.3 150L217.6 143L218 143.5L218.3 149.9L218.7 143.6L219 148L219.4 146.6L219.7 151.2L220.1 147.3L220.4 148.9L220.8 146.8L221.1 142.2L221.5 147.3L221.8 151.6L222.2 147.2L222.5 148.6L222.9 147.8L223.2 149.9L223.6 149.6L223.9 151.4L224.3 145.4L224.6 143.2L225 151.3L225.3 147.2L225.7 148.6L226 153L226.4 147.3L226.7 153.7L227.1 148.9L227.4 143.3L227.8 149L228.1 149.5L228.5 149.5L228.8 148.8L229.2 155.7L229.5 153.4L229.9 152L230.2 148.2L230.6 149.4L230.9 150.9L231.3 154L231.6 145.6L232 153.6L232.3 153.5L232.7 151.2L233 151.4L233.4 148.6L233.7 149.7L234.1 154L234.4 152.3L234.8 154.1L235.1 152.7L235.5 149.6L235.8 153.5L236.2 155.8L236.5 156L236.9 152.7" stroke="#606060" stroke-width="1" fill="none"/>
<path d="M47.5 27.4L47.9 28.7L48.2 29.6L48.6 30.9L48.9 31.9L49.3 33.2L49.6 34.3L50 35.8L50.3 37L50.7 38.2L51 39.5L51.4 40.8L51.7 42L52.1 43.1L52.4 44.3L52.8 45L53.1 46.2L53.5 47.4L53.8 48.2L54.2 48.9L54.5 50.1L54.9 51L55.2 51.9L55.6 52.9L55.9 54.1L56.3 55.1L56.6 56L57 57.1L57.3 57.6L57.7 58.7L58 59.1L58.4 59.8L58.7 60.8L59.1 61.6L59.4 62.6L59.8 63L60.1 63.7L60.5 64.2L60.8 65.1L61.2 65.9L61.5 66.4L61.9 67.3L62.2 68L62.6 68.5L62.9 69L63.3 69.7L63.6 70.4L64 70.8L64.3 71.7L64.7 72L65 72.7L65.4 73L65.7 73.6L66.1 74.2L66.4 75L66.8 75.4L67.1 76L67.5 76.7L67.8 76.9L68.2 77.8L68.5 78.1L68.9 78.6L69.2 79.2L69.6 80.2L69.9 80.9L70.3 81.1L70.6 81.7L71 82.2L71.3 83.2L71.7 83.9L72 84.6L72.4 85.2L72.7 86.1L73.1 86.4L73.4 87.1L73.8 87.5L74.1 87.9L74.5 87.9L74.8 89.3L75.2 89.5L75.5 90.1L75.9 90.5L76.2 91.3L76.6 91.8L76.9 91.1L77.3 92.5L77.6 93.4L78 93.8L78.3 93.9L78.7 94.6L79 94L79.4 95.7L79.7 95.8L80.1 96.5L80.4 97.3L80.8 97.4L81.1 96.9L81.5 96.7L81.8 98.3L82.2 99.2L82.5 99.8L82.9 100.9L83.2 100.9L83.6 101.2L83.9 99.8L84.3 102.6L84.6 102.5L85 104.8L85.3 104L85.7 102.9L86 104.2L86.4 105.2L86.7 104L87.1 103.7L87.4 106.4L87.8 105.8L88.1 106.6L88.5 107.4L88.8 107.4L89.2 109.1L89.5 109L89.9 109.4L90.2 110.5L90.6 109.8L90.9 108.8L91.3 110.7L91.6 109.4L92 111.7L92.3 110.3L92.7 112.1L93 114.1L93.4 113.8L93.7 112.1L94.1 111.6L94.4 113.2L94.8 115.5L95.1 115.2L95.5 112.6L95.8 116.2L96.2 115.7L96.5 116.7L96.9 117.9L97.2 115L97.6 117.3L97.9 117L98.3 118.7L98.6 116.9L99 115.4L99.3 118.2L99.7 119.8L100 118.1L100.4 118.4L100.7 119.4L101.1 119.2L101.4 119.1L101.8 119.4L102.1 122.9L102.5 120L102.8 121.4L103.2 123.4L103.5 123.6L103.9 119.1L104.2 121L104.6 120.4L104.9 122.7L105.3 119.2L105.6 121L106 123.6L106.3 124.8L106.7 122.3L107 125.2L107.4 127.4L107.7 123.5L108.1 128L108.4 125.8L108.8 121.8L109.1 126.6L109.5 126.8L109.8 129.7L110.2 125.7L110.5 131L110.9 127.5L111.2 128.9L111.6 127.6L111.9 129.3L112.3 131L112.6 128.7L113 127.8L113.3 130.5L113.7 128.8L114 130.2L114.4 131.9L114.7 130.4L115.1 131.1L115.4 130.9L115.8 130.9L116.1 132.8L116.5 133.8L116.8 132.1L117.2 127.9L117.5 128.7L117.9 133.9L118.2 135.6L118.6 135.5L118.9 131.9L119.3 133.7L119.6 132.2L120 134.6L120.3 133.7L120.7 131.9L121 135.8L121.4 134.8L121.7 139.8L122.1 137.8L122.4 131.9L122.8 137.8L123.1 133.9L123.5 134.8L123.8 136L124.2 133.6L124.5 142.3L124.9 139.2L125.2 135.3L125.6 140.4L125.9 132.5L126.3 141.1L126.6 138.7L127 139.2L127.3 141.1L127.7 139.6L128 140.7L128.4 137.2L128.7 140.9L129.1 139.3L129.4 141.5L129.8 139.9L130.1 141.7L130.5 139.6L130.8 137.9L131.2 139.4L131.5 143.9L131.9 141L132.2 142.2L132.6 141.2L132.9 144.6L133.3 140.5L133.6 136.5L134 141.1L134.3 141.5L134.7 146.4L135 141.4L135.4 142.3L135.7 145.4L136.1 146.1L136.4 143.3L136.8 147.8L137.1 143.5L137.5 145.2L137.8 142.5L138.2 139.3L138.5 143.5L138.9 143.8L139.2 143.3L139.6 152.1L139.9 141.8L140.3 147.7L140.6 150.8L141 148.8L141.3 148.4L141.7 145.5L142 145.6L142.4 151.1L142.7 152.2L143.1 146.2L143.4 149.2L143.8 148.2L144.1 150.4L144.5 146.5L144.8 151.5L145.2 147.8L145.5 149.9L145.9 147.3L146.2 152.4L146.6 148.6L146.9 151.5L147.3 149.8L147.6 152.5L148 151.6L148.3 157L148.7 148.3L149 153.3L149.4 149.4L149.7 151.5L150.1 146.1L150.4 155.1L150.8 144.4L151.1 154L151.5 147.2L151.8 151L152.2 153.6L152.5 149.9L152.9 153.5L153.2 152.4L153.6 150.8L153.9 154.1L154.3 157.6L154.6 154.2L155 153.4L155.3 153.9L155.7 153.4L156 157.7L156.4 156.6L156.7 153.6L157.1 155.4L157.4 151.1L157.8 154.2L158.1 155.5L158.5 154.5L158.8 154.5L159.2 158L159.5 157.2L159.9 157.2L160.2 147.9L160.6 155.9L160.9 153.2L161.3 153.7L161.6 155.9L162 157.6L162.3 149.8L162.7 161L163 157.8L163.4 155.8L163.7 152.9L164.1 152L164.4 161.3L164.8 154.1L165.1 155.7L165.5 155.7L165.8 156.2L166.2 164.4L166.5 162.8L166.9 153.6L167.2 154.4L167.6 162.3L167.9 158.3L168.3 154.4L168.6 155.9L169 161L169.3 157.3L169.7 157.9L170 165.7L170.4 159.9L170.7 155.5L171.1 160.3L171.4 155.1L171.8 156.5L172.1 157.4L172.5 154.9L172.8 159.9L173.2 159.1L173.5 158.8L173.9 162.4L174.2 163.2L174.6 159L174.9 163.8L175.3 164.2L175.6 158.3L176 163L176.3 156.2L176.7 155.9L177 160.1L177.4 163.6L177.7 168L178.1 160.8L178.4 164.8L178.8 156L179.1 161.9L179.5 165.2L179.8 158.9L180.2 161.6L180.5 162.5L180.9 167.7L181.2 157.4L181.6 158.2L181.9 164.2L182.3 164.7L182.6 163.2L183 160L183.3 162.3L183.7 169.6L184 161.1L184.4 165.6L184.7 166.8L185.1 159.1L185.4 160.8L185.8 165L186.1 162.2L186.5 163.2L186.8 160.3L187.2 162.1L187.5 162.1L187.9 169.2L188.2 163.7L188.6 163.7L188.9 167.5L189.3 164.4L189.6 163L190 165.8L190.3 157.3L190.7 162.4L191 164.4L191.4 163L191.7 163L192.1 163.9L192.4 160.3L192.8 167.8L193.1 161.6L193.5 167L193.8 160.3L194.2 172.2L194.5 166.7L194.9 156.9L195.2 158.2L195.6 159L195.9 163.2L196.3 163L196.6 170.4L197 171L197.3 158.8L197.7 162.6L198 157.3L198.4 161.8L198.7 165.4L199.1 166.9L199.4 166L199.8 170.8L200.1 161.2L200.5 162.4L200.8 166.2L201.2 168.9L201.5 164.8L201.9 166.9L202.2 171.8L202.6 163.5L202.9 166.4L203.3 162L203.6 169.2L204 159.8L204.3 166.7L204.7 174.5L205 166.3L205.4 164.7L205.7 167.2L206.1 167L206.4 165L206.8 164.2L207.1 166.8L207.5 167L207.8 163.3L208.2 167.6L208.5 164.2L208.9 165.6L209.2 164.9L209.6 161.5L209.9 158.7L210.3 172.8L210.6 162.7L211 164.2L211.3 167.1L211.7 170.2L212 166.3L212.4 163.5L212.7 170.3L213.1 169.7L213.4 165.1L213.8 167.4L214.1 167.7L214.5 176.4L214.8 169L215.2 163.6L215.5 167.9L215.9 162L216.2 169.4L216.6 172.5L216.9 172.8L217.3 170L217.6 166.1L218 167.6L218.3 165.1L218.7 167.8L219 161.7L219.4 159L219.7 168.8L220.1 166.9L220.4 164.2L220.8 165.6L221.1 171.3L221.5 166.9L221.8 171.8L222.2 170.9L222.5 164.6L222.9 175.4L223.2 172.9L223.6 165.3L223.9 169.2L224.3 164.7L224.6 168.4L225 173.4L225.3 167.6L225.7 165.9L226 171.4L226.4 165.3L226.7 169.6L227.1 174.3L227.4 172.1L227.8 166.7L228.1 167.6L228.5 174.2L228.8 176.7L229.2 167.5L229.5 169.2L229.9 166.8L230.2 165.2L230.6 165.9L230.9 168.5L231.3 174.9L231.6 175.2L232 178L232.3 167.3L232.7 165L233 173.3L233.4 163.9L233.7 167.3L234.1 175.3L234.4 175.1L234.8 175.2L235.1 167.1L235.5 174.5L235.8 172.5L236.2 167.8L236.5 173.8L236.9 178" stroke="#111" stroke-width="1" fill="none"/>
<path d="M80 96.3L80.5 96.5L81 97.9L81.5 99.3L82 100.3L82.5 100.1L83 100.3L83.5 100.6L84 101.1L84.5 101.1L85 101.2L85.5 101.6L86 105.2L86.5 104.7L87 106.5L87.5 104.5L88 107L88.5 107.3L89 108.8L89.5 108.3L90 110.3L90.5 111L91 112L91.5 108.3L92 109.9L92.5 113.9L93 115.5L93.5 113.7L94 113L94.5 115.6L95 114.6L95.5 115.1L96 117.1L96.5 115.7L97 113.5L97.5 115.4L98 117.8L98.5 115.9L99 118.2L99.5 117.2L100 119.4L100.5 118.1L101 120.9L101.5 119.2L102 118.5L102.5 121.6L103 121.8L103.5 121.9L104 119.4L104.5 121.8L105 124.8L105.5 124L106 121.7L106.5 126.7L107 125.5L107.5 125.1L108 124.6L108.5 125.6L109 127.2L109.5 122L110 126.2L110.5 124.7L111 128.5L111.5 128.2L112 128.3L112.5 129.4L113 132.4L113.5 133.2L114 126.9L114.5 133.6L115 130.4L115.5 126.8L116 133.7L116.5 129.4L117 130.1L117.5 133.9L118 131.8L118.5 132.9L119 135.7L119.5 134.1L120 128.4L120.5 133.1L121 131.3L121.5 131.8L122 132.1L122.5 135.9L123 136L123.5 135.6L124 139L124.5 137.2L125 136.5L125.5 140L126 139.2L126.5 138.8L127 141.3L127.5 140.8L128 139.7L128.5 139.6L129 138.7L129.5 137.7L130 146.2L130.5 141.6L131 135.2L131.5 141.7L132 139.7L132.5 139.3L133 141.2L133.5 143.2L134 145.5L134.5 142.4L135 142.8L135.5 144.9L136 137.7L136.5 139.8L137 140.4L137.5 147.5L138 143.9L138.5 142.1L139 142.9L139.5 142.1L140 146.7L140.5 145.9L141 147.8L141.5 148.4L142 149.1L142.5 148.3L143 145.8L143.5 148.6L144 147.8L144.5 148.4L145 152.5L145.5 146.5L146 150.7L146.5 150.6L147 149.7L147.5 148.2L148 150L148.5 149.5L149 147.3L149.5 147.6L150 145.8L150.5 149.8L151 158.4L151.5 148.4L152 155.2L152.5 153.2L153 156.1L153.5 155.9L154 153.2L154.5 154.7L155 153.6L155.5 153.5L156 153.4L156.5 155.8L157 148.2L157.5 153.3L158 153.8L158.5 151.8L159 154.4L159.5 160.3L160 154.3L160.5 159.7L161 159.4L161.5 154.7L162 154.7L162.5 156L163 155.4L163.5 163.5L164 157.3L164.5 156.9L165 154.4L165.5 155.1L166 155L166.5 155.7L167 157.7L167.5 159.8L168 156.4L168.5 152.8L169 162.9L169.5 158.9L170 158.4L170.5 154.6L171 158.9L171.5 158.9L172 160.2L172.5 158.6L173 160.1L173.5 159.1L174 166.9L174.5 152.6L175 160L175.5 151.9L176 160.2L176.5 158.7L177 156.5L177.5 163.5L178 158.1L178.5 155L179 159.9L179.5 159L180 154.2L180.5 165.9L181 159.6L181.5 159.3L182 153.7L182.5 165.6L183 161.3L183.5 163.2L184 163.6L184.5 157.1L185 159.2L185.5 164.9L186 161.6L186.5 167.6L187 160.9L187.5 166.7L188 167.1L188.5 160.2L189 161.6L189.5 164.4L190 161.8L190.5 163.1L191 163.8L191.5 159.3L192 160.5L192.5 164.5L193 162.4L193.5 159.9L194 161.5L194.5 164.8L195 165.3L195.5 164.8L196 164.8L196.5 170.3L197 163.1L197.5 162.4L198 167.4L198.5 165.3L199 163.6L199.5 162.3L200 163.1L200.5 165.5L201 166.3L201.5 160.5L202 156.7L202.5 169.5L203 162.5L203.5 165.4L204 161.9L204.5 157.3L205 159.8L205.5 159.9L206 163L206.5 165.1L207 165.3L207.5 165.1L208 170.9L208.5 166L209 169.7L209.5 167.3L210 161.2L210.5 161.4L211 170.1L211.5 165.1L212 170.6L212.5 164.2L213 160.1L213.5 163.7L214 166.3L214.5 162.5L215 171.1L215.5 167.9L216 167.5L216.5 163.7L217 175.5L217.5 169.2L218 163.8L218.5 173L219 165.9L219.5 171.4L220 164.3L220.5 165.8L221 173.2L221.5 166.1L222 165.5L222.5 172.8L223 168.9L223.5 162.2L224 173.9L224.5 169.5L225 172.7L225.5 166.3L226 170.5L226.5 171.3L227 162.1L227.5 167.9L228 170L228.5 165.6L229 173.1L229.5 171L230 165.8L230.5 167.3L231 167.8L231.5 171.8L232 167.9L232.5 171L233 168.8L233.5 168.7L234 176.3L234.5 178.6L235 174.6L235.5 171.3L236 168.9L236.5 171L237 165.3" stroke="#222" stroke-width="0.8" fill="none"/>
<path d="M47.5 27.3L47.9 27.4L48.3 27.4L48.7 27.2L49.1 27.1L49.5 26.8L49.9 26.8L50.3 26.7L50.7 26.8L51.1 26.6L51.5 26.4L51.9 26.2L52.3 26.1L52.7 26.1L53.1 26.1L53.5 25.6L53.9 25.4L54.3 25.8L54.7 25.6L55.1 25.4L55.5 25.2L55.9 25L56.3 24.9L56.7 24.8L57.1 14L57.5 24.9L57.9 24.6L58.3 24.8L58.7 24.8L59.1 24.8L59.5 25.1L59.9 25L60.3 24.6L60.7 25L61.1 25.1L61.5 25.2L61.9 25.2L62.3 24.9L62.7 25.3L63.1 25.3L63.5 25.6L63.9 25.5L64.3 25.3L64.7 25.9L65.1 25.6L65.5 26L65.9 26L66.3 26L66.7 25.9L67.1 26.2L67.5 26.4L67.9 26.6L68.3 26.8L68.7 27.2L69.1 27.2L69.5 27.5L69.9 27.3L70.3 27.6L70.7 28L71.1 28.1L71.5 28.3L71.9 28.3L72.3 28.4L72.7 29L73.1 28.8L73.5 29L73.9 29.5L74.3 29.4L74.7 29.5L75.1 29.9L75.5 30L75.9 30.4L76.3 30.4L76.7 30.5L77.1 31.2L77.5 22.3L77.9 31.3L78.3 31.5L78.7 31.5L79.1 31.9L79.5 32L79.9 24.6L80.3 33L80.7 33L81.1 33.2L81.5 24.6L81.9 33.8L82.3 34.2L82.7 34.5L83.1 27.8L83.5 35.1L83.9 35.1L84.3 35.7L84.7 27.5L85.1 36.1L85.5 36.4L85.9 36.8L86.3 37L86.7 37.3L87.1 37.2L87.5 37.8L87.9 38L88.3 38.5L88.7 38.8L89.1 38.9L89.5 39.2L89.9 39.4L90.3 39.8L90.7 40.2L91.1 40.5L91.5 40.7L91.9 40.8L92.3 41.1L92.7 41.7L93.1 41.6L93.5 42L93.9 41.9L94.3 42.8L94.7 42.9L95.1 43.1L95.5 43.4L95.9 43.9L96.3 44L96.7 44.4L97.1 44.6L97.5 44.7L97.9 44.9L98.3 45.7L98.7 45.7L99.1 46.3L99.5 46.7L99.9 46.6L100.3 46.9L100.7 47.2L101.1 48L101.5 48L101.9 48.2L102.3 48.8L102.7 48.7L103.1 49.1L103.5 49.4L103.9 49.9L104.3 49.9L104.7 50.4L105.1 50.9L105.5 51L105.9 51.3L106.3 52L106.7 52L107.1 52.5L107.5 53.1L107.9 53.3L108.3 54.1L108.7 54L109.1 54L109.5 54.9L109.9 49.2L110.3 55.7L110.7 55.6L111.1 56.3L111.5 57.1L111.9 57.3L112.3 57.9L112.7 57.9L113.1 58.6L113.5 58.9L113.9 59.8L114.3 59.6L114.7 60.5L115.1 60.7L115.5 61.1L115.9 61.4L116.3 61.7L116.7 62L117.1 62.9L117.5 63L117.9 63.9L118.3 64.1L118.7 64.5L119.1 65.1L119.5 65.1L119.9 56.8L120.3 65.5L120.7 66.2L121.1 67L121.5 67.1L121.9 67.9L122.3 67.9L122.7 68L123.1 69L123.5 69L123.9 69.3L124.3 69.7L124.7 69.9L125.1 70.4L125.5 59.1L125.9 71.1L126.3 71.6L126.7 71.8L127.1 72.4L127.5 73L127.9 73.3L128.3 73.5L128.7 73.8L129.1 74.4L129.5 75L129.9 75.3L130.3 76.1L130.7 75.9L131.1 76.1L131.5 76.6L131.9 77.3L132.3 77.1L132.7 77.7L133.1 77.7L133.5 78.4L133.9 79L134.3 79.4L134.7 79.7L135.1 80.1L135.5 79.9L135.9 80.9L136.3 81.3L136.7 80.6L137.1 81.1L137.5 81.9L137.9 82.3L138.3 82.7L138.7 82.7L139.1 82.7L139.5 83.1L139.9 84L140.3 83.9L140.7 83.7L141.1 84.4L141.5 84.9L141.9 85L142.3 85.5L142.7 76.7L143.1 85.9L143.5 85.9L143.9 86.5L144.3 86.9L144.7 86.8L145.1 87.6L145.5 88.1L145.9 80L146.3 88.2L146.7 88.4L147.1 88.3L147.5 89.3L147.9 89L148.3 89.2L148.7 90.2L149.1 90.2L149.5 90L149.9 90.5L150.3 90.8L150.7 91.2L151.1 90.6L151.5 91.1L151.9 91.2L152.3 92L152.7 91.9L153.1 92.5L153.5 93.2L153.9 93L154.3 92.8L154.7 93.3L155.1 93.7L155.5 87.2L155.9 94.4L156.3 94.3L156.7 94.8L157.1 95.1L157.5 89L157.9 95.6L158.3 95.6L158.7 95.2L159.1 95.8L159.5 96L159.9 96.5L160.3 97.1L160.7 96.1L161.1 96.9L161.5 96.8L161.9 97.4L162.3 97.9L162.7 98.4L163.1 97.3L163.5 98.2L163.9 98.9L164.3 98.2L164.7 99.1L165.1 99.2L165.5 99.8L165.9 99.6L166.3 98.7L166.7 99.4L167.1 100L167.5 100.1L167.9 100.2L168.3 101.1L168.7 100.3L169.1 101L169.5 101.6L169.9 100.6L170.3 101.6L170.7 101.6L171.1 101.7L171.5 103.1L171.9 102L172.3 102.8L172.7 102.3L173.1 102.5L173.5 103.2L173.9 103.8L174.3 103.4L174.7 103.9L175.1 103.8L175.5 104.5L175.9 104.3L176.3 104.5L176.7 104.9L177.1 105L177.5 105L177.9 105L178.3 105.4L178.7 105.3L179.1 106.3L179.5 105.9L179.9 103.5L180.3 106L180.7 106.7L181.1 105.8L181.5 106.5L181.9 107.6L182.3 107.3L182.7 106.3L183.1 107.3L183.5 107.6L183.9 107.5L184.3 107.2L184.7 107.5L185.1 109.2L185.5 108.3L185.9 109.1L186.3 109.2L186.7 108.6L187.1 109.3L187.5 109.4L187.9 108.9L188.3 109.8L188.7 109.9L189.1 110.1L189.5 109.9L189.9 110.1L190.3 110.5L190.7 110.1L191.1 111.3L191.5 111.1L191.9 111.1L192.3 111.1L192.7 111.6L193.1 111.6L193.5 111.5L193.9 112.3L194.3 113.1L194.7 113.4L195.1 112.8L195.5 112.4L195.9 114L196.3 113.1L196.7 113.2L197.1 112.7L197.5 113.5L197.9 113.2L198.3 113.3L198.7 113.8L199.1 114.1L199.5 114.2L199.9 114.3L200.3 113.3L200.7 114.9L201.1 114.3L201.5 114.8L201.9 114.1L202.3 115.5L202.7 115.6L203.1 115.4L203.5 115.4L203.9 115.5L204.3 116.9L204.7 115.8L205.1 115.6L205.5 116L205.9 116.7L206.3 116.6L206.7 116.9L207.1 117.3L207.5 118.1L207.9 118.6L208.3 117.2L208.7 117.5L209.1 117.7L209.5 118.7L209.9 119.2L210.3 118.9L210.7 118.3L211.1 118.8L211.5 118.1L211.9 118.9L212.3 119.1L212.7 118.7L213.1 119.4L213.5 120.3L213.9 113.4L214.3 120L214.7 119.9L215.1 118.8L215.5 120.8L215.9 119.6L216.3 119.4L216.7 120.9L217.1 120.9L217.5 121.3L217.9 121.4L218.3 122.1L218.7 121.6L219.1 122.3L219.5 122.1L219.9 121L220.3 122.1L220.7 122.5L221.1 122.5L221.5 122.5L221.9 122.5L222.3 123.9L222.7 123.2L223.1 122.4L223.5 124L223.9 123.5L224.3 123.5L224.7 123.5L225.1 122L225.5 122.1L225.9 123.5L226.3 125L226.7 124.6L227.1 123.3L227.5 125.1L227.9 125.8L228.3 123.8L228.7 124.3L229.1 123.9L229.5 124.3L229.9 123.7L230.3 124.7L230.7 125.7L231.1 125.8L231.5 126.4L231.9 126.6L232.3 125.7L232.7 124.5L233.1 126.4L233.5 126.5L233.9 125.7L234.3 127.5L234.7 126.3L235.1 127.4L235.5 127.5L235.9 128.4L236.3 125.8L236.7 126.3" stroke="#111" stroke-width="1.1" fill="none"/>
<circle cx="47.6" cy="27.6" r="1.3" fill="#000"/>
<text x="159.3" y="10.6" font-size="10.8" text-anchor="start" fill="#000" stroke="#000" stroke-width="0.3">Thrombin+NO</text>
<text x="179.6" y="23" font-size="10.8" text-anchor="start" fill="#9a9a9a" stroke="#9a9a9a" stroke-width="0.3">+0.022 nM TSP1</text>
<text x="179.6" y="35.7" font-size="10.8" text-anchor="start" fill="#7a7a7a" stroke="#7a7a7a" stroke-width="0.3">+0.22 nM TSP1</text>
<text x="179.6" y="48.5" font-size="10.8" text-anchor="start" fill="#333" stroke="#333" stroke-width="0.3">+2.2 nM TSP1</text>
<text x="179.6" y="61.9" font-size="10.8" text-anchor="start" fill="#000" stroke="#000" stroke-width="0.3">+22 nM TSP1</text>
<line x1="157.8" y1="8.4" x2="96.3" y2="38.5" stroke="#000" stroke-width="1.3"/><polygon points="91.3,41 95.8,35.2 98.6,41" fill="#000"/>
<line x1="176.5" y1="19.6" x2="94.6" y2="59.3" stroke="#000" stroke-width="1.3"/><polygon points="89.6,61.7 94.1,55.9 96.9,61.7" fill="#000"/>
<line x1="176.5" y1="32.2" x2="98.1" y2="70.3" stroke="#000" stroke-width="1.3"/><polygon points="93.1,72.7 97.6,66.9 100.4,72.7" fill="#000"/>
<line x1="176.5" y1="45.2" x2="101.5" y2="81.7" stroke="#000" stroke-width="1.3"/><polygon points="96.5,84.2 101,78.4 103.8,84.2" fill="#000"/>
<line x1="176.5" y1="57.8" x2="104.4" y2="92.8" stroke="#000" stroke-width="1.3"/><polygon points="99.4,95.2 103.9,89.4 106.7,95.2" fill="#000"/>
<text x="59.2" y="168.7" font-size="10.7" text-anchor="start" fill="#000" stroke="#000" stroke-width="0.3">Thrombin</text>
<line x1="84.4" y1="156.2" x2="106.4" y2="135.1" stroke="#000" stroke-width="1.3"/><polygon points="110.4,131.2 107.9,138.1 103.4,133.5" fill="#000"/>
<text x="276.3" y="19.2" font-size="24.5" text-anchor="start" fill="#000" font-weight="bold">B</text>
<text transform="translate(293.8 95.2) rotate(-90)" font-size="12" text-anchor="middle" fill="#000" stroke="#000" stroke-width="0.3">Transmittance</text>
<rect x="302.8" y="77.4" width="3.4" height="41" fill="#000"/>
<polygon points="299.0,117.3 309.9,117.3 304.5,128.3" fill="#000"/>
<path d="M315.0 186.2V193.1H505.3V186.2" fill="none" stroke="#222" stroke-width="1.5"/>
<line x1="353.1" y1="186.2" x2="353.1" y2="193.1" stroke="#222" stroke-width="1.4"/>
<line x1="391.1" y1="186.2" x2="391.1" y2="193.1" stroke="#222" stroke-width="1.4"/>
<line x1="429.2" y1="186.2" x2="429.2" y2="193.1" stroke="#222" stroke-width="1.4"/>
<line x1="467.2" y1="186.2" x2="467.2" y2="193.1" stroke="#222" stroke-width="1.4"/>
<text x="315" y="210.3" font-size="11.5" text-anchor="middle" fill="#000" stroke="#000" stroke-width="0.3">0</text>
<text x="353.1" y="210.3" font-size="11.5" text-anchor="middle" fill="#000" stroke="#000" stroke-width="0.3">1</text>
<text x="391.1" y="210.3" font-size="11.5" text-anchor="middle" fill="#000" stroke="#000" stroke-width="0.3">2</text>
<text x="429.2" y="210.3" font-size="11.5" text-anchor="middle" fill="#000" stroke="#000" stroke-width="0.3">3</text>
<text x="467.2" y="210.3" font-size="11.5" text-anchor="middle" fill="#000" stroke="#000" stroke-width="0.3">4</text>
<text x="505.3" y="210.3" font-size="11.5" text-anchor="middle" fill="#000" stroke="#000" stroke-width="0.3">5</text>
<text x="414.8" y="225" font-size="12" text-anchor="middle" fill="#000" stroke="#000" stroke-width="0.3">Time (min)</text>
<path d="M315.4 30.4H357" stroke="#444" stroke-width="1" fill="none"/>
<path d="M352.7 30.5L353.1 30.8L353.4 30.8L353.8 31L354.1 31.5L354.5 32.1L354.8 32.6L355.2 33.2L355.5 34.1L355.9 35L356.2 36L356.6 36.8L356.9 37.7L357.3 38.6L357.6 39.6L358 40.4L358.3 41.5L358.7 42.5L359 43.7L359.4 44.4L359.7 45.6L360.1 46.3L360.4 47.6L360.8 48.4L361.1 49.3L361.5 50.3L361.8 51.4L362.2 52.1L362.5 53.3L362.9 54.3L363.2 55.2L363.6 56.2L363.9 56.4L364.3 57.7L364.6 58.3L365 59.6L365.3 60.2L365.7 61.1L366 62L366.4 62.6L366.7 63.6L367.1 64.1L367.4 66.3L367.8 65.7L368.1 66.8L368.5 66.3L368.8 67.2L369.2 68.4L369.5 70.7L369.9 71.5L370.2 71.7L370.6 71.4L370.9 75.2L371.3 72.3L371.6 73.2L372 75.8L372.3 74.3L372.7 77L373 78.8L373.4 77.9L373.7 79.4L374.1 79.5L374.4 79L374.8 76.6L375.1 79.3L375.5 82.2L375.8 79.8L376.2 82.5L376.5 84.7L376.9 87.7L377.2 82.8L377.6 85.2L377.9 87.5L378.3 88.8L378.6 85.2L379 93.2L379.3 87.7L379.7 92.7L380 90.3L380.4 92.4L380.7 96.1L381.1 94.4L381.4 93.5L381.8 91.2L382.1 92.6L382.5 91.1L382.8 101L383.2 91.9L383.5 90.1L383.9 102L384.2 101.6L384.6 97.5L384.9 101.7L385.3 97.4L385.6 98.8L386 102.7L386.3 103L386.7 101.1L387 108.1L387.4 106L387.7 104.9L388.1 101.5L388.4 106.2L388.8 105.4L389.1 106.8L389.5 110.1L389.8 106.4L390.2 109.6L390.5 111.8L390.9 111L391.2 117.6L391.6 105.4L391.9 111.2L392.3 108.2L392.6 112.3L393 120.3L393.3 108.3L393.7 113.1L394 116.7L394.4 115.4L394.7 118.6L395.1 111.1L395.4 119.8L395.8 114L396.1 113.6L396.5 120L396.8 120.2L397.2 116.7L397.5 116.9L397.9 119.4L398.2 120.5L398.6 120.5L398.9 118.1L399.3 114.1L399.6 126.9L400 123.4L400.3 119L400.7 118.3L401 121.7L401.4 123.1L401.7 117.6L402.1 130.2L402.4 127.2L402.8 124.9L403.1 127.6L403.5 127.5L403.8 130.8L404.2 127.9L404.5 132.2L404.9 133.5L405.2 127.2L405.6 127L405.9 125.7L406.3 128.3L406.6 126.8L407 129.7L407.3 131L407.7 132.1L408 126.2L408.4 134.6L408.7 129.7L409.1 130.6L409.4 129.4L409.8 124.1L410.1 132.6L410.5 125.3L410.8 136.2L411.2 132.4L411.5 138.3L411.9 135.1L412.2 135.5L412.6 138.3L412.9 133L413.3 139.2L413.6 133L414 134.7L414.3 131.3L414.7 136.1L415 136.8L415.4 132.4L415.7 129.6L416.1 134.5L416.4 136.5L416.8 134.4L417.1 131.4L417.5 132.5L417.8 134.4L418.2 126.5L418.5 133.5L418.9 141.6L419.2 131.1L419.6 135.4L419.9 143.2L420.3 139.5L420.6 140.5L421 136.4L421.3 131.8L421.7 146.5L422 138.6L422.4 138.5L422.7 144.3L423.1 141.1L423.4 138.2L423.8 133.7L424.1 137.7L424.5 137.8L424.8 135.8L425.2 135.2L425.5 134.8L425.9 138.5L426.2 136.7L426.6 140.9L426.9 143.5L427.3 140.8L427.6 139.7L428 146.1L428.3 142.6L428.7 134L429 137.2L429.4 141.1L429.7 136.8L430.1 143.7L430.4 133.5L430.8 133L431.1 145L431.5 143.4L431.8 134.6L432.2 141.6L432.5 147L432.9 136.9L433.2 136.8L433.6 136.8L433.9 137.8L434.3 134.8L434.6 140.2L435 136.3L435.3 142.7L435.7 151.8L436 138.3L436.4 146.6L436.7 147.8L437.1 133.4L437.4 143.6L437.8 143.2L438.1 142L438.5 146.9L438.8 141.8L439.2 145.3L439.5 142.3L439.9 143.5L440.2 140.9L440.6 153.9L440.9 144.2L441.3 139.9L441.6 153L442 151.5L442.3 144.2L442.7 142.3L443 142.1L443.4 150.7L443.7 144.1L444.1 142.6L444.4 149.4L444.8 144.8L445.1 145.8L445.5 154.5L445.8 150L446.2 151.8L446.5 148.4L446.9 152.2L447.2 146.1L447.6 151.1L447.9 151.6L448.3 145.4L448.6 141.8L449 149.8L449.3 147.1L449.7 150.3L450 145.2L450.4 150.2L450.7 152.2L451.1 158.2L451.4 156.1L451.8 150.1L452.1 154.8L452.5 145.9L452.8 153.8L453.2 149.4L453.5 154.7L453.9 150.5L454.2 148.1L454.6 146.1L454.9 154.8L455.3 149.7L455.6 152.6L456 151.7L456.3 140.6L456.7 152.4L457 148.2L457.4 151.6L457.7 152.1L458.1 142L458.4 148.7L458.8 149.9L459.1 151.9L459.5 154.5L459.8 147.3L460.2 149.4L460.5 153.2L460.9 142.4L461.2 158.9L461.6 146.4L461.9 156.6L462.3 151.4L462.6 159.3L463 155.6L463.3 150.8L463.7 143.4L464 151.7L464.4 152.6L464.7 153.6L465.1 145.5L465.4 147.6L465.8 147.8L466.1 152.7L466.5 147.5L466.8 151L467.2 155.8L467.5 149.7L467.9 157.8L468.2 153.1L468.6 150.6L468.9 156.8L469.3 154.1L469.6 150.6L470 149.3L470.3 151.8L470.7 153.6L471 157.3L471.4 153.4L471.7 149.4L472.1 146.1L472.4 153.5L472.8 154.1L473.1 157.6L473.5 150L473.8 146.5L474.2 156.4L474.5 151.8L474.9 147L475.2 160.3L475.6 156.8L475.9 153L476.3 154.1L476.6 149.4L477 157.5L477.3 150.9L477.7 150.8L478 151.6L478.4 147.7L478.7 157.9L479.1 160.9L479.4 156.7L479.8 143.6L480.1 151.8L480.5 150.3L480.8 155.1L481.2 143.3L481.5 143.3L481.9 151.3L482.2 158.1L482.6 152.6L482.9 163.9L483.3 149.6L483.6 153.8L484 153L484.3 149.8L484.7 159L485 147.5L485.4 148.8L485.7 152.1L486.1 151.6L486.4 159.3L486.8 151.4L487.1 156.4L487.5 151.8L487.8 160.2L488.2 154L488.5 155.4L488.9 146.4L489.2 157.6L489.6 151.2L489.9 158.5L490.3 156.8L490.6 157L491 159.8L491.3 156.3L491.7 150.3L492 155.3L492.4 155.4L492.7 148.9L493.1 157.6L493.4 161.8L493.8 155.9L494.1 155.3L494.5 157L494.8 160.1L495.2 152.2L495.5 159.5L495.9 151.3L496.2 157.6L496.6 157.5L496.9 148.8L497.3 158.3L497.6 156.2L498 147L498.3 153L498.7 152.2L499 150.9L499.4 157.4L499.7 151.5L500.1 155.7L500.4 150.1L500.8 154.2L501.1 164.5L501.5 157.6L501.8 147.9L502.2 151L502.5 155L502.9 147.7L503.2 160.6L503.6 155.6L503.9 155.5L504.3 156.2L504.6 152.6L505 150.3" stroke="#666" stroke-width="0.9" fill="none"/>
<path d="M356.7 30.5L357.1 30.8L357.4 31.4L357.8 31.6L358.1 31.9L358.5 32.5L358.8 33L359.2 33.7L359.5 34.8L359.9 35.5L360.2 36.6L360.6 37.3L360.9 37.9L361.3 38.8L361.6 39.8L362 40.4L362.3 41.6L362.7 42.5L363 43.6L363.4 44.1L363.7 45.1L364.1 46.2L364.4 47.2L364.8 47.7L365.1 49.3L365.5 49.7L365.8 51.1L366.2 51.6L366.5 52.5L366.9 53.1L367.2 54.6L367.6 57L367.9 56.3L368.3 59L368.6 60L369 59.7L369.3 62.2L369.7 63.7L370 63L370.4 63.8L370.7 67L371.1 67.1L371.4 70.7L371.8 69.4L372.1 67.9L372.5 70.7L372.8 69.7L373.2 73.9L373.5 74.7L373.9 73.6L374.2 73.5L374.6 77.6L374.9 76L375.3 79.9L375.6 76.2L376 78.3L376.3 78.4L376.7 78L377 85.7L377.4 85.3L377.7 80.8L378.1 84.7L378.4 79.3L378.8 87.1L379.1 87.4L379.5 84.6L379.8 85.2L380.2 87.4L380.5 88.7L380.9 87.3L381.2 86.7L381.6 89L381.9 89.3L382.3 93.4L382.6 92.2L383 93.3L383.3 88.4L383.7 92.8L384 93.4L384.4 93.6L384.7 95.4L385.1 95.5L385.4 92.2L385.8 100.6L386.1 101.1L386.5 97.2L386.8 101.4L387.2 97L387.5 96.5L387.9 100.5L388.2 106.7L388.6 101.9L388.9 97.8L389.3 104.2L389.6 102L390 102.1L390.3 106.2L390.7 99.8L391 100.1L391.4 101.7L391.7 110.8L392.1 108L392.4 106.2L392.8 106.5L393.1 111.6L393.5 114.1L393.8 107.9L394.2 111.9L394.5 118.9L394.9 114.2L395.2 111.5L395.6 114.4L395.9 114.1L396.3 116.6L396.6 116.1L397 113.6L397.3 115.5L397.7 117.8L398 114.5L398.4 117.7L398.7 114.7L399.1 122.9L399.4 124.5L399.8 116.3L400.1 123L400.5 121L400.8 121.2L401.2 120.4L401.5 122.7L401.9 125.8L402.2 118L402.6 126.7L402.9 122.3L403.3 119.6L403.6 123.8L404 126.7L404.3 124.3L404.7 126.1L405 124L405.4 123.5L405.7 129.6L406.1 122.6L406.4 130.1L406.8 127.9L407.1 125.8L407.5 126.2L407.8 126.2L408.2 127.4L408.5 127.6L408.9 127.4L409.2 120.7L409.6 120.2L409.9 129.9L410.3 126.3L410.6 126.7L411 128.5L411.3 125L411.7 135.5L412 129.6L412.4 129.1L412.7 125.8L413.1 133.6L413.4 133.1L413.8 136.3L414.1 134.1L414.5 127.4L414.8 125.8L415.2 136.5L415.5 128.4L415.9 130.8L416.2 130.8L416.6 133.6L416.9 134L417.3 127.7L417.6 129.4L418 125.1L418.3 134.6L418.7 131.8L419 125.7L419.4 137.1L419.7 133L420.1 128.9L420.4 131.6L420.8 131L421.1 134L421.5 134.6L421.8 131.5L422.2 135.8L422.5 124.7L422.9 132.9L423.2 137.2L423.6 138.6L423.9 138.2L424.3 130.6L424.6 128L425 133.8L425.3 144.5L425.7 136.6L426 132.5L426.4 128.7L426.7 136.5L427.1 134.1L427.4 138.3L427.8 137.1L428.1 126.8L428.5 136L428.8 140L429.2 134.3L429.5 131.9L429.9 132.2L430.2 131.6L430.6 146.6L430.9 143.5L431.3 135L431.6 143.6L432 133.3L432.3 135.7L432.7 134.9L433 137.4L433.4 141.2L433.7 147.2L434.1 141.8L434.4 138.3L434.8 139.5L435.1 138L435.5 140.7L435.8 135.5L436.2 140.5L436.5 141.5L436.9 143.7L437.2 136.2L437.6 141.7L437.9 141.2L438.3 136.6L438.6 131.7L439 138L439.3 144.3L439.7 139.5L440 150.4L440.4 143.4L440.7 138L441.1 140.8L441.4 143.4L441.8 143.6L442.1 140.6L442.5 143.8L442.8 151.6L443.2 146.1L443.5 143L443.9 140.3L444.2 134.7L444.6 143.4L444.9 141L445.3 142.7L445.6 140.7L446 146.6L446.3 148.1L446.7 140.4L447 137.6L447.4 145.2L447.7 150L448.1 145.9L448.4 146.3L448.8 138.1L449.1 142L449.5 147.1L449.8 146.3L450.2 144.8L450.5 147.5L450.9 148.9L451.2 145.6L451.6 142.2L451.9 139.2L452.3 146.5L452.6 144.9L453 145L453.3 150.9L453.7 143.1L454 144.9L454.4 149.1L454.7 142.3L455.1 136.8L455.4 144L455.8 150.3L456.1 144L456.5 145.7L456.8 138.5L457.2 152.3L457.5 139.1L457.9 144.1L458.2 146.4L458.6 156.1L458.9 147.8L459.3 144.1L459.6 140.7L460 146.1L460.3 142L460.7 144.9L461 148L461.4 153.4L461.7 142.8L462.1 154.2L462.4 139.1L462.8 157L463.1 145.2L463.5 146.5L463.8 146.1L464.2 149.4L464.5 148.2L464.9 147L465.2 145.3L465.6 146.1L465.9 148.9L466.3 146.3L466.6 145.6L467 142.2L467.3 149L467.7 151.2L468 144.3L468.4 153.7L468.7 149L469.1 149.7L469.4 141.3L469.8 152.2L470.1 155.2L470.5 158.4L470.8 146.6L471.2 149.3L471.5 153L471.9 152.1L472.2 146.7L472.6 150L472.9 154.4L473.3 152.5L473.6 149.6L474 154.8L474.3 143L474.7 152.1L475 147L475.4 148.5L475.7 154L476.1 158.5L476.4 152.5L476.8 151L477.1 158.2L477.5 154L477.8 140.1L478.2 147.7L478.5 147.5L478.9 147.5L479.2 143.7L479.6 153.8L479.9 151.7L480.3 159.1L480.6 149.6L481 151.6L481.3 147.5L481.7 155.9L482 157.2L482.4 159.2L482.7 156.1L483.1 148.5L483.4 157.1L483.8 147.1L484.1 148.5L484.5 150.6L484.8 161.5L485.2 148.2L485.5 146.9L485.9 152.8L486.2 157.4L486.6 154.5L486.9 154.5L487.3 147.9L487.6 150.1L488 158.1L488.3 152.5L488.7 149L489 150.5L489.4 158.7L489.7 160.5L490.1 154.3L490.4 148.4L490.8 160.4L491.1 149.3L491.5 153L491.8 154.6L492.2 152.5L492.5 151.8L492.9 160.5L493.2 154.3L493.6 145.8L493.9 149.9L494.3 159.3L494.6 152.1L495 148L495.3 157.4L495.7 155.4L496 153.3L496.4 155.9L496.7 151.3L497.1 154.1L497.4 156.1L497.8 150.6L498.1 159.5L498.5 148.3L498.8 163.7L499.2 153.9L499.5 155.4L499.9 147.7L500.2 157.5L500.6 149.6L500.9 156.2L501.3 153.9L501.6 149.9L502 162.7L502.3 154.8L502.7 151.5L503 152.3L503.4 155.7L503.7 154.4L504.1 158.5L504.4 151.5L504.8 155.4" stroke="#111" stroke-width="1" fill="none"/>
<path d="M380 88L380.5 88.3L381 86.7L381.5 94.9L382 86.4L382.5 91.8L383 95.4L383.5 95.6L384 96.5L384.5 92.4L385 102.1L385.5 95L386 97.9L386.5 98.9L387 99.7L387.5 98.9L388 106.3L388.5 102.4L389 106.2L389.5 98.7L390 106.5L390.5 104.6L391 107.4L391.5 107.5L392 109.1L392.5 108.1L393 109.4L393.5 110.4L394 111.5L394.5 111.7L395 111L395.5 114.5L396 111L396.5 121.6L397 118.3L397.5 121.4L398 116.5L398.5 113.1L399 113L399.5 116.2L400 117.5L400.5 119L401 119.7L401.5 123.8L402 114.1L402.5 128.7L403 122L403.5 124.3L404 117.8L404.5 125.6L405 119.8L405.5 127.3L406 127L406.5 126.9L407 126L407.5 126L408 126.1L408.5 131L409 128.2L409.5 129.1L410 136.9L410.5 129.1L411 125.5L411.5 120.6L412 120.7L412.5 130.1L413 133.3L413.5 126L414 125.8L414.5 129.8L415 131.3L415.5 134.6L416 130.7L416.5 128.8L417 134.3L417.5 127.9L418 126.1L418.5 127.7L419 131.1L419.5 130.9L420 132.9L420.5 133.3L421 142.5L421.5 135.2L422 124.9L422.5 128.1L423 134.9L423.5 130.9L424 143.6L424.5 132.9L425 133.4L425.5 135.7L426 134.4L426.5 137.8L427 134.7L427.5 137.2L428 133.6L428.5 126.9L429 138.3L429.5 143.7L430 132.8L430.5 134.7L431 140.6L431.5 135.3L432 138.1L432.5 136.8L433 140.6L433.5 137.6L434 147L434.5 138.8L435 137.6L435.5 132.8L436 139.5L436.5 135.3L437 142.3L437.5 142.1L438 149.6L438.5 136.7L439 140.8L439.5 145L440 131.9L440.5 143.7L441 149L441.5 141.5L442 141.3L442.5 147L443 143.1L443.5 143.4L444 146L444.5 139.1L445 151.1L445.5 141.4L446 143.1L446.5 141.6L447 133.5L447.5 136.5L448 142.3L448.5 144L449 149.4L449.5 154.4L450 147.9L450.5 144.3L451 142.1L451.5 151.4L452 142.5L452.5 145.3L453 151.7L453.5 145.2L454 145.3L454.5 146.8L455 138.9L455.5 145.9L456 147.4L456.5 148.4L457 145.2L457.5 137L458 143.4L458.5 150.6L459 143.7L459.5 143.2L460 149.9L460.5 150.1L461 148.4L461.5 150.6L462 151.6L462.5 150.3L463 149.7L463.5 156.7L464 143.1L464.5 158.7L465 149.7L465.5 145.1L466 151.9L466.5 153.5L467 143.2L467.5 149.7L468 152.9L468.5 152.9L469 149.3L469.5 144.2L470 148.9L470.5 159.7L471 145.1L471.5 160L472 149.4L472.5 149.3L473 147.2L473.5 150.6L474 150.9L474.5 145.2L475 159.8L475.5 155.9L476 152.1L476.5 144.1L477 148.6L477.5 149.6L478 154.3L478.5 150L479 145.2L479.5 149.8L480 149.8L480.5 150.9L481 155.1L481.5 147.5L482 143.6L482.5 156.8L483 155.9L483.5 145.3L484 154.9L484.5 148.8L485 154.8L485.5 154.1L486 144.7L486.5 146.5L487 150.9L487.5 144.9L488 146L488.5 147.6L489 151.1L489.5 151.5L490 148.3L490.5 150.9L491 158.1L491.5 155.1L492 154.4L492.5 149L493 149.1L493.5 146.4L494 148.4L494.5 143.6L495 152L495.5 150.8L496 149.4L496.5 149.8L497 146.5L497.5 156.6L498 156.2L498.5 159.2L499 155L499.5 152.5L500 157.9L500.5 147.1L501 146.5L501.5 158.3L502 156.1L502.5 155L503 160.6L503.5 153.7L504 155.2L504.5 156.2L505 148.1" stroke="#111" stroke-width="0.9" fill="none"/>
<path d="M339.5 30.6L339.9 30.6L340.2 31.6L340.6 32.8L340.9 34.3L341.3 36.3L341.6 38.4L342 40.5L342.3 42.4L342.7 44.1L343 45.5L343.4 47.3L343.7 48.6L344.1 50L344.4 51.4L344.8 52.4L345.1 53.4L345.5 55.7L345.8 57.1L346.2 59L346.5 60.5L346.9 60.2L347.2 62.3L347.6 63.1L347.9 67.5L348.3 67.2L348.6 69L349 68.3L349.3 68.5L349.7 71.2L350 73.5L350.4 76.3L350.7 71.2L351.1 78.2L351.4 75.1L351.8 77.2L352.1 79L352.5 79.8L352.8 84.7L353.2 87.8L353.5 87L353.9 84.7L354.2 90.4L354.6 91.7L354.9 95.3L355.3 94L355.6 86.4L356 91.3L356.3 93.8L356.7 100.9L357 96.4L357.4 102.2L357.7 99.8L358.1 93L358.4 100L358.8 103.4L359.1 103.5L359.5 94.4L359.8 105.5L360.2 101L360.5 93.7L360.9 103.1L361.2 96.4L361.6 101.3L361.9 117.2L362.3 123.6L362.6 117.4L363 115.1L363.3 124.4L363.7 117L364 110.8L364.4 104.8L364.7 123.5L365.1 106.8L365.4 107.8L365.8 117.8L366.1 122.8L366.5 118.5L366.8 130.3L367.2 124.8L367.5 127.4L367.9 129.6L368.2 124.6L368.6 129.9L368.9 142.9L369.3 124.8L369.6 131.9L370 134.6L370.3 129.1L370.7 132.5L371 123.3L371.4 131.3L371.7 134.5L372.1 141.2L372.4 140.7L372.8 132.1L373.1 129.3L373.5 147L373.8 141.8L374.2 125.5L374.5 135.1L374.9 132.1L375.2 134.1L375.6 127.7L375.9 135.8L376.3 135.4L376.6 137.4L377 145.3L377.3 140.6L377.7 132.1L378 129.2L378.4 136.7L378.7 147.1L379.1 146L379.4 136.9L379.8 147.8L380.1 143.6L380.5 137.4L380.8 143.9L381.2 141L381.5 134.8L381.9 139.2L382.2 143L382.6 150.3L382.9 135.9L383.3 144L383.6 142.8L384 142.5L384.3 135.4L384.7 150.9L385 151.3L385.4 153.3L385.7 146.5L386.1 152.9L386.4 147.2L386.8 150.2L387.1 142L387.5 145.6L387.8 142.3L388.2 137.8L388.5 141.9L388.9 137.6L389.2 137.8L389.6 142.5L389.9 141.3L390.3 158.4L390.6 156.6L391 152.4L391.3 150.6L391.7 140.2L392 147.6L392.4 136.7L392.7 142L393.1 143.1L393.4 143.9L393.8 152L394.1 141.4L394.5 161.6L394.8 143.5L395.2 152.4L395.5 136.7L395.9 153L396.2 139.2L396.6 148.6L396.9 147.4L397.3 152.9L397.6 151.6L398 150.3L398.3 146.9L398.7 160.8L399 145.1L399.4 148.3L399.7 145.2L400.1 149.3L400.4 142.1L400.8 145.9L401.1 152L401.5 145L401.8 152L402.2 145.1L402.5 158.6L402.9 148.3L403.2 161L403.6 152.7L403.9 148.6L404.3 156L404.6 157.5L405 160.1L405.3 159.3L405.7 156L406 142.2L406.4 156.5L406.7 149.7L407.1 153.2L407.4 159.1L407.8 145.8L408.1 159.7L408.5 166.4L408.8 154.7L409.2 148.9L409.5 160.4L409.9 152.4L410.2 158.4L410.6 159.9L410.9 141.1L411.3 153.7L411.6 141.2L412 146.9L412.3 156L412.7 143.6L413 147L413.4 148.9L413.7 154.3L414.1 154.6L414.4 155.3L414.8 148.8L415.1 147.2L415.5 155.3L415.8 146.5L416.2 147L416.5 157.6L416.9 147.2L417.2 146.5L417.6 160.8L417.9 152.7L418.3 137.4L418.6 147.9L419 166.9L419.3 169.6L419.7 151.3L420 158.4L420.4 158.7L420.7 155.8L421.1 140.8L421.4 160.8L421.8 155.8L422.1 152.2L422.5 142.5L422.8 149.6L423.2 153.3L423.5 152.4L423.9 155.9L424.2 151.6L424.6 161.5L424.9 158.9L425.3 146.3L425.6 150.3L426 157.7L426.3 150.8L426.7 164.8L427 151L427.4 156.7L427.7 159.3L428.1 147L428.4 164.1L428.8 153.7L429.1 150.2L429.5 150.4L429.8 143.3L430.2 145.7L430.5 166.2L430.9 154.7L431.2 153.7L431.6 157.1L431.9 159.9L432.3 150.2L432.6 154.4L433 157.9L433.3 163.3L433.7 157.9L434 168.1L434.4 154.7L434.7 153.9L435.1 146.4L435.4 156.1L435.8 161.1L436.1 154.8L436.5 155.3L436.8 149.6L437.2 152.5L437.5 153.5L437.9 156.2L438.2 164.6L438.6 160.6L438.9 163.6L439.3 165.6L439.6 153.7L440 166.9L440.3 157.5L440.7 147.7L441 152.9L441.4 156.8L441.7 146.3L442.1 174.2L442.4 157.2L442.8 163.8L443.1 148.8L443.5 158.4L443.8 159.6L444.2 152.2L444.5 159.7L444.9 157.9L445.2 160.7L445.6 149.2L445.9 161.8L446.3 156L446.6 151.9L447 142.1L447.3 156.8L447.7 155.5L448 175.6L448.4 149.5L448.7 169.3L449.1 167.7L449.4 161.5L449.8 160.4L450.1 162.3L450.5 147.8L450.8 169.1L451.2 156.4L451.5 153.3L451.9 158.8L452.2 142.3L452.6 149.1L452.9 150.2L453.3 147.4L453.6 163.4L454 170.9L454.3 159.2L454.7 156.8L455 161.6L455.4 155.5L455.7 160.3L456.1 162.3L456.4 157.7L456.8 156.3L457.1 160L457.5 159.9L457.8 164.6L458.2 148.3L458.5 151.3L458.9 156L459.2 163.3L459.6 150L459.9 168.8L460.3 170.5L460.6 154.3L461 168.2L461.3 144.2L461.7 159.2L462 147.9L462.4 168L462.7 166.3L463.1 163.9L463.4 155.7L463.8 151.6L464.1 163.2L464.5 156.3L464.8 165.3L465.2 148.2L465.5 163.4L465.9 164.1L466.2 143.6L466.6 150.7L466.9 155L467.3 155.8L467.6 147.3L468 160.5L468.3 151.9L468.7 159.9L469 146.6L469.4 151.6L469.7 165.8L470.1 147.6L470.4 160.3L470.8 171.7L471.1 166.8L471.5 150.7L471.8 177.7L472.2 156.5L472.5 167.9L472.9 168.2L473.2 158.5L473.6 165.8L473.9 144.2L474.3 161.7L474.6 162.2L475 158.4L475.3 162L475.7 169.3L476 168.4L476.4 156.4L476.7 167.3L477.1 170.3L477.4 162.2L477.8 164.3L478.1 144.5L478.5 149.3L478.8 164.3L479.2 149.9L479.5 168L479.9 170.5L480.2 153.9L480.6 152.6L480.9 160.1L481.3 163.4L481.6 168L482 159.9L482.3 162L482.7 154.1L483 164L483.4 155.8L483.7 169.6L484.1 167.3L484.4 149.2L484.8 164.6L485.1 153.5L485.5 169.5L485.8 154L486.2 171.9L486.5 170.4L486.9 177.4L487.2 164.8L487.6 162.6L487.9 171.7L488.3 152.7L488.6 162L489 159.9L489.3 161.9L489.7 150L490 149.3L490.4 149.1L490.7 174L491.1 159.9L491.4 167.5L491.8 161.6L492.1 160.8L492.5 172.9L492.8 145.7L493.2 161L493.5 156.6L493.9 155.6L494.2 150.1L494.6 150.8L494.9 153.5L495.3 171.6L495.6 157.5L496 159.3L496.3 161.7L496.7 168L497 171.3L497.4 164.7L497.7 163.2L498.1 167.4L498.4 157L498.8 165L499.1 176.7L499.5 158.2L499.8 156.6L500.2 151.2L500.5 163.9L500.9 168.5L501.2 160.2L501.6 161L501.9 173L502.3 163.9L502.6 169.3L503 160.9L503.3 174.1L503.7 171.1L504 162.7L504.4 159.2L504.7 183.4" stroke="#111" stroke-width="1" fill="none"/>
<path d="M348 64.6L348.4 67.1L348.8 70.4L349.2 69.5L349.6 69.6L350 69.3L350.4 76.9L350.8 75.4L351.2 75L351.6 74.8L352 71.1L352.4 81.4L352.8 78.6L353.2 83.8L353.6 92L354 85.9L354.4 88.5L354.8 95.1L355.2 91.4L355.6 94.2L356 89.3L356.4 91.3L356.8 88.6L357.2 102.1L357.6 104.3L358 96.4L358.4 99L358.8 98.6L359.2 114.3L359.6 108.3L360 103.3L360.4 109L360.8 113.8L361.2 102L361.6 112.3L362 113.4L362.4 111.5L362.8 117L363.2 120.8L363.6 115.6L364 114.7L364.4 123.2L364.8 120.2L365.2 122.8L365.6 132.7L366 124.9L366.4 123.6L366.8 117.4L367.2 128.2L367.6 129.2L368 131.5L368.4 132.2L368.8 134L369.2 132.1L369.6 132.4L370 135.7L370.4 129L370.8 128L371.2 128.5L371.6 135.4L372 125L372.4 132.9L372.8 135.1L373.2 138.4L373.6 130.9L374 137.7L374.4 138L374.8 134.9L375.2 138.8L375.6 137.6L376 132.4L376.4 137.3L376.8 134.2L377.2 151.1L377.6 138.7L378 136.5L378.4 131.9L378.8 140.7L379.2 143.2L379.6 141.5L380 133.2L380.4 135.4L380.8 135.3L381.2 143.3L381.6 137.2L382 141.9L382.4 153.6L382.8 131.5L383.2 141.4L383.6 143L384 134.1L384.4 150L384.8 142.1L385.2 146.2L385.6 147.6L386 152.9L386.4 140.3L386.8 140.6L387.2 136.8L387.6 137L388 156.2L388.4 142.2L388.8 134.4L389.2 149.7L389.6 156.6L390 139.5L390.4 145.5L390.8 137.2L391.2 133.4L391.6 145L392 138.8L392.4 138.9L392.8 146.7L393.2 149.2L393.6 145.4L394 155.1L394.4 142.9L394.8 145L395.2 153L395.6 161.8L396 160.6L396.4 153.8L396.8 148.7L397.2 139.3L397.6 157.6L398 147.6L398.4 163L398.8 148.8L399.2 135.8L399.6 155.9L400 149.9L400.4 145.3L400.8 150.1L401.2 149.2L401.6 151.2L402 137.6L402.4 149.7L402.8 152.5L403.2 141.5L403.6 158.4L404 148.9L404.4 136.4L404.8 160.9L405.2 147.8L405.6 150.8L406 149.2L406.4 163.7L406.8 151L407.2 146.2L407.6 146.6L408 155L408.4 155.3L408.8 146.8L409.2 157.8L409.6 146.9L410 152.7L410.4 155.4L410.8 153.8L411.2 153.8L411.6 154L412 148.7L412.4 153.8L412.8 154.7L413.2 144L413.6 142.7L414 154.8L414.4 152.6L414.8 154L415.2 158.1L415.6 155.7L416 149.4L416.4 156.9L416.8 148.4L417.2 165.4L417.6 160.7L418 153.6L418.4 149.1L418.8 157.2L419.2 152.7L419.6 148.7L420 157.7L420.4 154.8L420.8 160.2L421.2 153.1L421.6 167.9L422 166.6L422.4 143.4L422.8 140.4L423.2 148.1L423.6 165.6L424 159.5L424.4 156L424.8 157.1L425.2 146.6L425.6 156.6L426 148.2L426.4 157.1L426.8 153.1L427.2 151.9L427.6 152.1L428 159.9L428.4 169.4L428.8 143.7L429.2 161.1L429.6 153.2L430 167L430.4 164.2L430.8 150.4L431.2 157L431.6 166.6L432 168.4L432.4 152.3L432.8 149.5L433.2 158.8L433.6 166.4L434 163.6L434.4 159.3L434.8 160.9L435.2 160.9L435.6 157.7L436 150.7L436.4 162.4L436.8 160.4L437.2 163.8L437.6 157.3L438 153.9L438.4 163L438.8 163.9L439.2 170.7L439.6 148.2L440 154.6L440.4 156.2L440.8 173.6L441.2 141.5L441.6 164.9L442 152.5L442.4 150.7L442.8 164.4L443.2 163.9L443.6 141.3L444 149.5L444.4 158.5L444.8 154.9L445.2 166.7L445.6 152.6L446 156.8L446.4 142.8L446.8 162.7L447.2 159.1L447.6 164.2L448 153.8L448.4 172.4L448.8 154.3L449.2 171.9L449.6 172.5L450 152.5L450.4 160.7L450.8 154.5L451.2 146.1L451.6 163.4L452 159.5L452.4 169.3L452.8 171.2L453.2 146.9L453.6 157.3L454 162.5L454.4 165.9L454.8 160.9L455.2 153.9L455.6 158L456 164.6L456.4 150.2L456.8 149.8L457.2 150.3L457.6 154.9L458 169.5L458.4 156.4L458.8 165.1L459.2 170L459.6 168.9L460 161.8L460.4 159.2L460.8 159.8L461.2 157.7L461.6 154.7L462 163.7L462.4 167.1L462.8 156L463.2 153.6L463.6 160.2L464 160.5L464.4 166.3L464.8 162L465.2 161.3L465.6 149.1L466 157.1L466.4 158.2L466.8 155.9L467.2 164.1L467.6 160.9L468 154.9L468.4 164L468.8 169.5L469.2 178.7L469.6 160.4L470 157.4L470.4 167.5L470.8 173.9L471.2 157L471.6 166.2L472 159.6L472.4 168.1L472.8 156.1L473.2 158.2L473.6 159.4L474 160.3L474.4 152L474.8 159.6L475.2 155.4L475.6 175.9L476 172.1L476.4 157.1L476.8 158.2L477.2 164.6L477.6 157.7L478 157.7L478.4 167.1L478.8 170.4L479.2 165.7L479.6 172.8L480 162.5L480.4 161.3L480.8 159.1L481.2 158.8L481.6 156.1L482 173.2L482.4 169.2L482.8 161.2L483.2 162.9L483.6 155.6L484 167.3L484.4 161.1L484.8 161.3L485.2 160.2L485.6 151.1L486 158.3L486.4 174.4L486.8 156.2L487.2 155.7L487.6 160.8L488 155.5L488.4 155.1L488.8 153.9L489.2 155.4L489.6 162.9L490 145.4L490.4 151.9L490.8 152.5L491.2 163.1L491.6 155.9L492 166.1L492.4 156.6L492.8 171.4L493.2 149.5L493.6 177.6L494 153.4L494.4 160.6L494.8 155.3L495.2 161.3L495.6 175L496 169.9L496.4 159.4L496.8 167.4L497.2 177.1L497.6 168.8L498 161.4L498.4 166.8L498.8 167.3L499.2 150.2L499.6 159.6L500 164.7L500.4 178.6L500.8 169.8L501.2 166.2L501.6 151.8L502 160.8L502.4 152.6L502.8 165.2L503.2 159.9L503.6 170.9L504 164.4L504.4 164.9L504.8 167.3" stroke="#111" stroke-width="1" fill="none"/>
<path d="M350 78.5L350.5 76.7L351 79.2L351.5 81.3L352 77.8L352.5 77.3L353 80.4L353.5 86.9L354 91.2L354.5 90.5L355 88L355.5 98.2L356 90.4L356.5 95L357 95.7L357.5 99.1L358 102.7L358.5 95.7L359 100.5L359.5 103.8L360 100.5L360.5 105.3L361 107.6L361.5 104.3L362 105.9L362.5 111.4L363 112.5L363.5 115.7L364 123.7L364.5 121.1L365 121.1L365.5 118.8L366 125.5L366.5 121.4L367 130.4L367.5 130.4L368 121.4L368.5 125.2L369 129.5L369.5 129.8L370 127.9L370.5 128.9L371 136L371.5 132.6L372 130L372.5 134.6L373 139.3L373.5 142.1L374 137.3L374.5 136.5L375 135.2L375.5 136.6L376 140.5L376.5 143.2L377 143.5L377.5 138.9L378 143L378.5 142.9L379 142.1L379.5 133.1L380 140.9L380.5 140.4L381 146.2L381.5 140.9L382 143.7L382.5 143.3L383 147L383.5 145.4L384 146.6L384.5 148.4L385 146.8L385.5 146.4L386 143L386.5 144.4L387 151.8L387.5 144.5L388 146.4L388.5 144.5L389 143.9L389.5 137.1L390 151.3L390.5 141.3L391 142.7L391.5 150.6L392 137.9L392.5 146.3L393 144.3L393.5 139.9L394 148.9L394.5 144.1L395 146.6L395.5 145.6L396 149.6L396.5 155.6L397 143.1L397.5 150.9L398 145.4L398.5 146.8L399 141.3L399.5 144.2L400 146.9L400.5 151.6L401 149.7L401.5 151.1L402 151.8L402.5 144.2L403 154.7L403.5 148.3L404 152.2L404.5 149.1L405 151L405.5 152.5L406 141.9L406.5 157.9L407 151.2L407.5 154.8L408 151.6L408.5 151.3L409 146.1L409.5 149.7L410 143L410.5 150.9L411 157.6L411.5 144.6L412 149.2L412.5 150.5L413 156.5L413.5 156.9L414 152.6L414.5 152.8L415 151.9L415.5 150.8L416 150.9L416.5 151.1L417 152.4L417.5 153.4L418 150.8L418.5 155.8L419 153.3L419.5 155.6L420 148.3L420.5 151L421 154.3L421.5 155.1L422 153.4L422.5 160.3L423 153.5L423.5 160.1L424 160.1L424.5 157.4L425 156.5L425.5 157L426 154.4L426.5 150.6L427 153.1L427.5 152.7L428 153.7L428.5 152.5L429 151.2L429.5 156.2L430 161.5L430.5 152.3L431 148.5L431.5 153.7L432 151.1L432.5 152.1L433 151L433.5 155.8L434 158.6L434.5 165.8L435 151.8L435.5 150.9L436 156.1L436.5 156.3L437 163.6L437.5 162.4L438 154.4L438.5 148.7L439 159.7L439.5 155.5L440 163.2L440.5 157L441 157L441.5 152.7L442 157.6L442.5 162.7L443 154.5L443.5 158.9L444 155.6L444.5 162L445 158L445.5 160.6L446 159.7L446.5 154.7L447 153.6L447.5 164.2L448 157.2L448.5 154.4L449 156L449.5 166L450 159.4L450.5 163.8L451 149.3L451.5 169.1L452 159.6L452.5 165.1L453 158L453.5 159.2L454 163.3L454.5 167.8L455 160.4L455.5 156.8L456 164.2L456.5 169.1L457 154L457.5 156.3L458 162.9L458.5 158.2L459 150.4L459.5 160.2L460 161.6L460.5 163.4L461 166.6L461.5 154.6L462 158.1L462.5 160.3L463 162.5L463.5 157.3L464 160.8L464.5 157.3L465 164.7L465.5 166.5L466 157.5L466.5 163.7L467 156.4L467.5 162.9L468 154.7L468.5 162.4L469 166.6L469.5 165.5L470 153L470.5 162.1L471 159.9L471.5 168.1L472 163.5L472.5 168.4L473 159.3L473.5 156.5L474 151.2L474.5 163.3L475 160.7L475.5 163.4L476 161.3L476.5 163.2L477 168.9L477.5 156.6L478 164.8L478.5 168.3L479 164.9L479.5 171.2L480 161L480.5 163.3L481 161.2L481.5 161.1L482 171.1L482.5 156L483 160.1L483.5 160.5L484 163L484.5 161.6L485 166L485.5 165.6L486 171.7L486.5 167.3L487 158.9L487.5 155.6L488 161.4L488.5 160.4L489 162.2L489.5 169.9L490 165.2L490.5 157L491 159.8L491.5 171.4L492 157.9L492.5 167.3L493 167.9L493.5 158L494 157.6L494.5 165.5L495 165.4L495.5 169L496 166.9L496.5 159.2L497 173.1L497.5 165.2L498 165L498.5 165.4L499 157L499.5 160.4L500 168.5L500.5 168L501 162.1L501.5 165.2L502 162.1L502.5 162L503 162.7L503.5 159.3L504 161.3L504.5 164.4L505 165.1" stroke="#222" stroke-width="0.9" fill="none"/>
<text x="408.3" y="36.2" font-size="10.8" text-anchor="start" fill="#000" stroke="#000" stroke-width="0.3">Thrombin+NO</text>
<text x="414.9" y="54.6" font-size="10.8" text-anchor="start" fill="#000" stroke="#000" stroke-width="0.3">+22 nM fibrinogen</text>
<line x1="405.8" y1="34.6" x2="369.1" y2="44.4" stroke="#000" stroke-width="1.3"/><polygon points="363.7,45.8 369.3,41 370.9,47.2" fill="#000"/>
<line x1="412.5" y1="53.5" x2="374.2" y2="63.4" stroke="#000" stroke-width="1.3"/><polygon points="368.8,64.8 374.4,60 376,66.2" fill="#000"/>
<text x="320.6" y="166.8" font-size="10.7" text-anchor="start" fill="#000" stroke="#000" stroke-width="0.3">Thrombin</text>
<line x1="346.1" y1="154.3" x2="365.1" y2="136.8" stroke="#000" stroke-width="1.3"/><polygon points="369.2,133 366.5,139.8 362.2,135.1" fill="#000"/>
<text x="-0.5" y="261.3" font-size="24.5" text-anchor="start" fill="#000" font-weight="bold">C</text>
<path d="M50.5 255.1V412H193.8" fill="none" stroke="#808080" stroke-width="1.1"/>
<line x1="50.5" y1="255.6" x2="53.2" y2="255.6" stroke="#999" stroke-width="1"/>
<text x="46.6" y="260.6" font-size="12" text-anchor="end" fill="#000" stroke="#000" stroke-width="0.3">110</text>
<line x1="50.5" y1="286.4" x2="53.2" y2="286.4" stroke="#999" stroke-width="1"/>
<text x="46.6" y="291" font-size="12" text-anchor="end" fill="#000" stroke="#000" stroke-width="0.3">100</text>
<line x1="50.5" y1="317.8" x2="53.2" y2="317.8" stroke="#999" stroke-width="1"/>
<text x="46.6" y="322.4" font-size="12" text-anchor="end" fill="#000" stroke="#000" stroke-width="0.3">90</text>
<line x1="50.5" y1="349.2" x2="53.2" y2="349.2" stroke="#999" stroke-width="1"/>
<text x="46.6" y="353.8" font-size="12" text-anchor="end" fill="#000" stroke="#000" stroke-width="0.3">80</text>
<line x1="50.5" y1="380.6" x2="53.2" y2="380.6" stroke="#999" stroke-width="1"/>
<text x="46.6" y="385.2" font-size="12" text-anchor="end" fill="#000" stroke="#000" stroke-width="0.3">70</text>
<line x1="50.5" y1="412" x2="53.2" y2="412" stroke="#999" stroke-width="1"/>
<text x="46.6" y="416.6" font-size="12" text-anchor="end" fill="#000" stroke="#000" stroke-width="0.3">60</text>
<line x1="57" y1="408" x2="57" y2="412" stroke="#999" stroke-width="1"/>
<text x="57" y="428.7" font-size="11.7" text-anchor="middle" fill="#000" stroke="#000" stroke-width="0.3">0</text>
<line x1="83.3" y1="408" x2="83.3" y2="412" stroke="#999" stroke-width="1"/>
<text x="83.3" y="428.7" font-size="11.7" text-anchor="middle" fill="#000" stroke="#000" stroke-width="0.3">1</text>
<line x1="109.7" y1="408" x2="109.7" y2="412" stroke="#999" stroke-width="1"/>
<text x="109.7" y="428.7" font-size="11.7" text-anchor="middle" fill="#000" stroke="#000" stroke-width="0.3">2</text>
<line x1="136.1" y1="408" x2="136.1" y2="412" stroke="#999" stroke-width="1"/>
<text x="136.1" y="428.7" font-size="11.7" text-anchor="middle" fill="#000" stroke="#000" stroke-width="0.3">3</text>
<line x1="162.4" y1="408" x2="162.4" y2="412" stroke="#999" stroke-width="1"/>
<text x="162.4" y="428.7" font-size="11.7" text-anchor="middle" fill="#000" stroke="#000" stroke-width="0.3">4</text>
<line x1="188.8" y1="408" x2="188.8" y2="412" stroke="#999" stroke-width="1"/>
<text x="188.8" y="428.7" font-size="11.7" text-anchor="middle" fill="#000" stroke="#000" stroke-width="0.3">5</text>
<text x="120.8" y="444.6" font-size="12" text-anchor="middle" fill="#000" stroke="#000" stroke-width="0.3">time (min)</text>
<text transform="translate(19.5 336.9) rotate(-90)" font-size="12" text-anchor="middle" fill="#000" stroke="#000" stroke-width="0.3">absorbance (% control)</text>
<polyline points="57,286.4 70.2,308.8 83.3,311.2 96.5,318 109.7,329.6 122.9,337.7 136.1,359.6 149.2,362.2 162.4,378.3 175.6,383.7 188.8,395.2" fill="none" stroke="#8a8a8a" stroke-width="1" stroke-dasharray="2.6 1.8"/>
<polyline points="57,286.4 70.2,296.9 83.3,305 96.5,319.2 109.7,335.4 122.9,361.9 136.1,374.2 149.2,390.8 162.4,392.3" fill="none" stroke="#8a8a8a" stroke-width="1" stroke-dasharray="2.6 1.8"/>
<polyline points="57,286.4 70.2,285 83.3,284.5 96.5,289.7 109.7,301.5 122.9,313.5 136.1,323.4 149.2,340.5 162.4,352.7 175.6,365.4 188.8,373.5" fill="none" stroke="#555" stroke-width="1"/>
<polyline points="57,286.4 70.2,292.7 83.3,298.5 96.5,319.6 109.7,334.2 122.9,348.5 136.1,370.7 149.2,380.9 162.4,392.6 175.6,398.9 188.8,405.8" fill="none" stroke="#555" stroke-width="1"/>
<polygon points="57,288.9 54.6,284.7 59.4,284.7" fill="#fff" stroke="#666" stroke-width="0.8"/>
<polygon points="70.2,311.3 67.8,307.1 72.6,307.1" fill="#fff" stroke="#666" stroke-width="0.8"/>
<polygon points="83.3,313.7 80.9,309.5 85.8,309.5" fill="#fff" stroke="#666" stroke-width="0.8"/>
<polygon points="96.5,320.5 94.1,316.3 98.9,316.3" fill="#fff" stroke="#666" stroke-width="0.8"/>
<polygon points="109.7,332.1 107.3,327.9 112.1,327.9" fill="#fff" stroke="#666" stroke-width="0.8"/>
<polygon points="122.9,340.2 120.5,336 125.3,336" fill="#fff" stroke="#666" stroke-width="0.8"/>
<polygon points="136.1,362.1 133.7,357.9 138.5,357.9" fill="#fff" stroke="#666" stroke-width="0.8"/>
<polygon points="149.2,364.7 146.8,360.5 151.6,360.5" fill="#fff" stroke="#666" stroke-width="0.8"/>
<polygon points="162.4,380.8 160,376.6 164.8,376.6" fill="#fff" stroke="#666" stroke-width="0.8"/>
<polygon points="175.6,386.2 173.2,382 178,382" fill="#fff" stroke="#666" stroke-width="0.8"/>
<polygon points="188.8,397.7 186.3,393.5 191.2,393.5" fill="#fff" stroke="#666" stroke-width="0.8"/>
<circle cx="57" cy="286.4" r="2.0" fill="#fff" stroke="#666" stroke-width="0.8"/>
<circle cx="70.2" cy="296.9" r="2.0" fill="#fff" stroke="#666" stroke-width="0.8"/>
<circle cx="83.3" cy="305" r="2.0" fill="#fff" stroke="#666" stroke-width="0.8"/>
<circle cx="96.5" cy="319.2" r="2.0" fill="#fff" stroke="#666" stroke-width="0.8"/>
<circle cx="109.7" cy="335.4" r="2.0" fill="#fff" stroke="#666" stroke-width="0.8"/>
<circle cx="122.9" cy="361.9" r="2.0" fill="#fff" stroke="#666" stroke-width="0.8"/>
<circle cx="136.1" cy="374.2" r="2.0" fill="#fff" stroke="#666" stroke-width="0.8"/>
<circle cx="149.2" cy="390.8" r="2.0" fill="#fff" stroke="#666" stroke-width="0.8"/>
<circle cx="162.4" cy="392.3" r="2.0" fill="#fff" stroke="#666" stroke-width="0.8"/>
<polygon points="57,283.9 54.6,288.1 59.4,288.1" fill="#000" stroke="none" stroke-width="0.8"/>
<polygon points="70.2,282.5 67.8,286.7 72.6,286.7" fill="#000" stroke="none" stroke-width="0.8"/>
<polygon points="83.3,282 80.9,286.2 85.8,286.2" fill="#000" stroke="none" stroke-width="0.8"/>
<polygon points="96.5,287.2 94.1,291.4 98.9,291.4" fill="#000" stroke="none" stroke-width="0.8"/>
<polygon points="109.7,299 107.3,303.2 112.1,303.2" fill="#000" stroke="none" stroke-width="0.8"/>
<polygon points="122.9,311 120.5,315.2 125.3,315.2" fill="#000" stroke="none" stroke-width="0.8"/>
<polygon points="136.1,320.9 133.7,325.1 138.5,325.1" fill="#000" stroke="none" stroke-width="0.8"/>
<polygon points="149.2,338 146.8,342.2 151.6,342.2" fill="#000" stroke="none" stroke-width="0.8"/>
<polygon points="162.4,350.2 160,354.4 164.8,354.4" fill="#000" stroke="none" stroke-width="0.8"/>
<polygon points="175.6,362.9 173.2,367.1 178,367.1" fill="#000" stroke="none" stroke-width="0.8"/>
<polygon points="188.8,371 186.3,375.2 191.2,375.2" fill="#000" stroke="none" stroke-width="0.8"/>
<circle cx="57" cy="286.4" r="2.2" fill="#000"/>
<circle cx="70.2" cy="292.7" r="2.2" fill="#000"/>
<circle cx="83.3" cy="298.5" r="2.2" fill="#000"/>
<circle cx="96.5" cy="319.6" r="2.2" fill="#000"/>
<circle cx="109.7" cy="334.2" r="2.2" fill="#000"/>
<circle cx="122.9" cy="348.5" r="2.2" fill="#000"/>
<circle cx="136.1" cy="370.7" r="2.2" fill="#000"/>
<circle cx="149.2" cy="380.9" r="2.2" fill="#000"/>
<circle cx="162.4" cy="392.6" r="2.2" fill="#000"/>
<circle cx="175.6" cy="398.9" r="2.2" fill="#000"/>
<circle cx="188.8" cy="405.8" r="2.2" fill="#000"/>
<rect x="54.8" y="284.2" width="4.4" height="4.4" fill="#000"/>
<line x1="138.6" y1="256.8" x2="144.8" y2="256.8" stroke="#666" stroke-width="1"/><line x1="155.3" y1="256.8" x2="161.6" y2="256.8" stroke="#666" stroke-width="1"/>
<line x1="138.6" y1="273.8" x2="145" y2="273.8" stroke="#999" stroke-width="1" stroke-dasharray="2 1.6"/><line x1="155.3" y1="273.8" x2="161.8" y2="273.8" stroke="#999" stroke-width="1" stroke-dasharray="2 1.6"/>
<line x1="138.6" y1="291.3" x2="144.8" y2="291.3" stroke="#666" stroke-width="1"/><line x1="155.3" y1="291.3" x2="161.6" y2="291.3" stroke="#666" stroke-width="1"/>
<line x1="138.6" y1="308.3" x2="145" y2="308.3" stroke="#999" stroke-width="1" stroke-dasharray="2 1.6"/><line x1="155.3" y1="308.3" x2="161.8" y2="308.3" stroke="#999" stroke-width="1" stroke-dasharray="2 1.6"/>
<circle cx="150" cy="256.8" r="2.7" fill="#000"/>
<circle cx="150" cy="273.8" r="2.3" fill="#fff" stroke="#666" stroke-width="0.8"/>
<polygon points="150.3,288.7 147.6,293.4 153,293.4" fill="#000" stroke="none" stroke-width="0.8"/>
<polygon points="150.2,311 147.6,306.5 152.8,306.5" fill="#fff" stroke="#666" stroke-width="0.8"/>
<text x="166.5" y="260.8" font-size="10.9" text-anchor="start" fill="#000" stroke="#000" stroke-width="0.3">thrombin</text>
<text x="166.5" y="277.7" font-size="10.9" text-anchor="start" fill="#000" stroke="#000" stroke-width="0.3">thrombin + TSP1</text>
<text x="166.5" y="295" font-size="10.9" text-anchor="start" fill="#000" stroke="#000" stroke-width="0.3">thrombin + NO</text>
<text x="166.5" y="312.3" font-size="10.9" text-anchor="start" fill="#000" stroke="#000" stroke-width="0.3">thrombin + NO+TSP1</text>
<text x="276.6" y="261.5" font-size="24.5" text-anchor="start" fill="#000" font-weight="bold">D</text>
<path d="M334.8 256.9V410.4H510.3" fill="none" stroke="#808080" stroke-width="1.1"/>
<line x1="334.8" y1="294.9" x2="337.4" y2="294.9" stroke="#999" stroke-width="1"/>
<text x="329.4" y="301.2" font-size="12" text-anchor="end" fill="#000" stroke="#000" stroke-width="0.3">75</text>
<line x1="334.8" y1="333.4" x2="337.4" y2="333.4" stroke="#999" stroke-width="1"/>
<text x="329.4" y="339.7" font-size="12" text-anchor="end" fill="#000" stroke="#000" stroke-width="0.3">50</text>
<line x1="334.8" y1="371.9" x2="337.4" y2="371.9" stroke="#999" stroke-width="1"/>
<text x="329.4" y="378.2" font-size="12" text-anchor="end" fill="#000" stroke="#000" stroke-width="0.3">25</text>
<line x1="334.8" y1="410.4" x2="337.4" y2="410.4" stroke="#999" stroke-width="1"/>
<text x="329.4" y="416.7" font-size="12" text-anchor="end" fill="#000" stroke="#000" stroke-width="0.3">0</text>
<rect x="346.2" y="382.7" width="27.3" height="27.7" fill="#000"/>
<line x1="353.4" y1="381.3" x2="366.4" y2="381.3" stroke="#777" stroke-width="1"/>
<rect x="387.7" y="312.2" width="28.1" height="98.2" fill="#000"/>
<line x1="395.2" y1="310.0" x2="408.2" y2="310.0" stroke="#777" stroke-width="1"/>
<rect x="429.5" y="403.1" width="27" height="7.3" fill="#000"/>
<line x1="436.5" y1="402.3" x2="449.5" y2="402.3" stroke="#777" stroke-width="1"/>
<rect x="471.3" y="364.3" width="27.7" height="46.1" fill="#000"/>
<line x1="478.6" y1="363.5" x2="491.6" y2="363.5" stroke="#777" stroke-width="1"/>
<text x="360" y="427.1" font-size="11.6" text-anchor="middle" fill="#000" stroke="#000" stroke-width="0.3">BSA</text>
<text x="401.7" y="427.1" font-size="11.6" text-anchor="middle" fill="#000" stroke="#000" stroke-width="0.3">NO</text>
<text x="444.6" y="427.1" font-size="11.6" text-anchor="middle" fill="#000" stroke="#000" stroke-width="0.3">TSP1</text>
<text x="493.2" y="427.1" font-size="11.6" text-anchor="middle" fill="#000" stroke="#000" stroke-width="0.3">NO+TSP1</text>
<text transform="translate(302.7 327.5) rotate(-90)" font-size="12.3" text-anchor="middle" fill="#000" stroke="#000" stroke-width="0.3">cGMP (fmol/well)</text>
<text x="-0.2" y="483" font-size="24.5" text-anchor="start" fill="#000" font-weight="bold">E</text>
<path d="M50.9 473V638.5H252.3" fill="none" stroke="#808080" stroke-width="1.1"/>
<line x1="50.9" y1="473.8" x2="53.6" y2="473.8" stroke="#999" stroke-width="1"/>
<text x="45.4" y="480.4" font-size="12" text-anchor="end" fill="#000" stroke="#000" stroke-width="0.3">125</text>
<line x1="50.9" y1="515" x2="53.6" y2="515" stroke="#999" stroke-width="1"/>
<text x="45.4" y="521.6" font-size="12" text-anchor="end" fill="#000" stroke="#000" stroke-width="0.3">100</text>
<line x1="50.9" y1="556.2" x2="53.6" y2="556.2" stroke="#999" stroke-width="1"/>
<text x="45.4" y="562.8" font-size="12" text-anchor="end" fill="#000" stroke="#000" stroke-width="0.3">75</text>
<line x1="50.9" y1="597.4" x2="53.6" y2="597.4" stroke="#999" stroke-width="1"/>
<text x="45.4" y="604" font-size="12" text-anchor="end" fill="#000" stroke="#000" stroke-width="0.3">50</text>
<line x1="50.9" y1="638.6" x2="53.6" y2="638.6" stroke="#999" stroke-width="1"/>
<text x="45.4" y="645.2" font-size="12" text-anchor="end" fill="#000" stroke="#000" stroke-width="0.3">25</text>
<line x1="66.8" y1="634.5" x2="66.8" y2="638.5" stroke="#999" stroke-width="1"/>
<text x="66.8" y="655.8" font-size="12" text-anchor="middle" fill="#000" stroke="#000" stroke-width="0.3">0</text>
<line x1="100.6" y1="634.5" x2="100.6" y2="638.5" stroke="#999" stroke-width="1"/>
<text x="100.6" y="655.8" font-size="12" text-anchor="middle" fill="#000" stroke="#000" stroke-width="0.3">.0022</text>
<line x1="134.4" y1="634.5" x2="134.4" y2="638.5" stroke="#999" stroke-width="1"/>
<text x="134.4" y="655.8" font-size="12" text-anchor="middle" fill="#000" stroke="#000" stroke-width="0.3">.022</text>
<line x1="168.1" y1="634.5" x2="168.1" y2="638.5" stroke="#999" stroke-width="1"/>
<text x="168.1" y="655.8" font-size="12" text-anchor="middle" fill="#000" stroke="#000" stroke-width="0.3">0.22</text>
<line x1="201.9" y1="634.5" x2="201.9" y2="638.5" stroke="#999" stroke-width="1"/>
<text x="201.9" y="655.8" font-size="12" text-anchor="middle" fill="#000" stroke="#000" stroke-width="0.3">2.2</text>
<line x1="235.7" y1="634.5" x2="235.7" y2="638.5" stroke="#999" stroke-width="1"/>
<text x="235.7" y="655.8" font-size="12" text-anchor="middle" fill="#000" stroke="#000" stroke-width="0.3">22</text>
<text x="146.7" y="669.2" font-size="12" text-anchor="middle" fill="#000" stroke="#000" stroke-width="0.3">fibronectin (nM)</text>
<text transform="translate(19.8 543.9) rotate(-90)" font-size="12" text-anchor="middle" fill="#000" stroke="#000" stroke-width="0.3">cGMP (% control)</text>
<line x1="100.6" y1="502.6" x2="100.6" y2="527.5" stroke="#666" stroke-width="1.2"/><line x1="97.2" y1="502.6" x2="104" y2="502.6" stroke="#666" stroke-width="1.2"/><line x1="97.2" y1="527.5" x2="104" y2="527.5" stroke="#666" stroke-width="1.2"/>
<line x1="168.1" y1="513.8" x2="168.1" y2="552.3" stroke="#666" stroke-width="1.2"/><line x1="164.7" y1="513.8" x2="171.5" y2="513.8" stroke="#666" stroke-width="1.2"/><line x1="164.7" y1="552.3" x2="171.5" y2="552.3" stroke="#666" stroke-width="1.2"/>
<line x1="201.9" y1="516.9" x2="201.9" y2="546.5" stroke="#666" stroke-width="1.2"/><line x1="198.5" y1="516.9" x2="205.3" y2="516.9" stroke="#666" stroke-width="1.2"/><line x1="198.5" y1="546.5" x2="205.3" y2="546.5" stroke="#666" stroke-width="1.2"/>
<line x1="235.7" y1="520.2" x2="235.7" y2="536.2" stroke="#666" stroke-width="1.2"/><line x1="232.3" y1="520.2" x2="239.1" y2="520.2" stroke="#666" stroke-width="1.2"/><line x1="232.3" y1="536.2" x2="239.1" y2="536.2" stroke="#666" stroke-width="1.2"/>
<line x1="66.8" y1="504.8" x2="66.8" y2="525.6" stroke="#666" stroke-width="1.2"/><line x1="63.4" y1="504.8" x2="70.2" y2="504.8" stroke="#666" stroke-width="1.2"/><line x1="63.4" y1="525.6" x2="70.2" y2="525.6" stroke="#666" stroke-width="1.2"/>
<line x1="201.9" y1="579.6" x2="201.9" y2="593.0" stroke="#666" stroke-width="1.2"/><line x1="198.5" y1="579.6" x2="205.3" y2="579.6" stroke="#666" stroke-width="1.2"/><line x1="198.5" y1="593.0" x2="205.3" y2="593.0" stroke="#666" stroke-width="1.2"/>
<line x1="235.7" y1="594.6" x2="235.7" y2="610.4" stroke="#666" stroke-width="1.2"/><line x1="232.3" y1="594.6" x2="239.1" y2="594.6" stroke="#666" stroke-width="1.2"/><line x1="232.3" y1="610.4" x2="239.1" y2="610.4" stroke="#666" stroke-width="1.2"/>
<polyline points="66.8,515 100.6,515 134.4,523.5 168.1,533.1 201.9,531.2 235.7,527.7" fill="none" stroke="#555" stroke-width="1.2" stroke-dasharray="2.6 2"/>
<polyline points="66.8,515.2 168.1,576.5 201.9,586.2 235.7,602.3" fill="none" stroke="#333" stroke-width="1.2"/>
<circle cx="66.8" cy="515" r="3.5" fill="#fff" stroke="#333" stroke-width="1"/>
<circle cx="100.6" cy="515" r="3.5" fill="#fff" stroke="#333" stroke-width="1"/>
<circle cx="134.4" cy="523.5" r="3.5" fill="#fff" stroke="#333" stroke-width="1"/>
<circle cx="168.1" cy="533.1" r="3.5" fill="#fff" stroke="#333" stroke-width="1"/>
<circle cx="201.9" cy="531.2" r="3.5" fill="#fff" stroke="#333" stroke-width="1"/>
<circle cx="235.7" cy="527.7" r="3.5" fill="#fff" stroke="#333" stroke-width="1"/>
<circle cx="66.8" cy="515.2" r="3.6" fill="#000"/>
<circle cx="168.1" cy="576.5" r="3.6" fill="#000"/>
<circle cx="201.9" cy="586.2" r="3.6" fill="#000"/>
<circle cx="235.7" cy="602.3" r="3.6" fill="#000"/>
<line x1="163.8" y1="469.4" x2="184.9" y2="469.4" stroke="#333" stroke-width="1.2"/>
<circle cx="175" cy="469.4" r="3.4" fill="#000"/>
<line x1="163.8" y1="489.6" x2="184.9" y2="489.6" stroke="#666" stroke-width="1.2" stroke-dasharray="2.4 2"/>
<circle cx="175" cy="489.6" r="3.2" fill="#fff" stroke="#444" stroke-width="1"/>
<text x="191.2" y="476.3" font-size="11.8" text-anchor="start" fill="#000" stroke="#000" stroke-width="0.3">TSP1</text>
<text x="191.2" y="497" font-size="11.8" text-anchor="start" fill="#000" stroke="#000" stroke-width="0.3">Fibronectin</text>
<text x="276.6" y="482.3" font-size="24.5" text-anchor="start" fill="#000" font-weight="bold">F</text>
<path d="M337.8 485V637.3H501.9" fill="none" stroke="#808080" stroke-width="1.1"/>
<line x1="337.8" y1="486.6" x2="340.8" y2="486.6" stroke="#999" stroke-width="1"/>
<text x="332.4" y="492.6" font-size="12" text-anchor="end" fill="#000" stroke="#000" stroke-width="0.3">200</text>
<line x1="337.8" y1="561.9" x2="340.8" y2="561.9" stroke="#999" stroke-width="1"/>
<text x="332.4" y="567.9" font-size="12" text-anchor="end" fill="#000" stroke="#000" stroke-width="0.3">100</text>
<line x1="337.8" y1="637.3" x2="340.8" y2="637.3" stroke="#999" stroke-width="1"/>
<text x="332.4" y="643.3" font-size="12" text-anchor="end" fill="#000" stroke="#000" stroke-width="0.3">0</text>
<rect x="350.4" y="561.0" width="25.6" height="76.3" fill="#000"/>
<rect x="376.0" y="512.5" width="26.4" height="124.8" fill="#898989"/>
<rect x="428.4" y="558.5" width="26.2" height="78.8" fill="#000"/>
<rect x="454.6" y="551.0" width="26.3" height="86.3" fill="#898989"/>
<line x1="363.2" y1="557.6" x2="363.2" y2="561.0" stroke="#888" stroke-width="1.2"/><line x1="356.9" y1="557.6" x2="369.4" y2="557.6" stroke="#888" stroke-width="1.2"/><line x1="356.9" y1="561.0" x2="369.4" y2="561.0" stroke="#888" stroke-width="1.2"/>
<line x1="389.2" y1="510.6" x2="389.2" y2="513.9" stroke="#222" stroke-width="1.2"/><line x1="382.4" y1="510.6" x2="395.9" y2="510.6" stroke="#222" stroke-width="1.2"/><line x1="382.4" y1="513.9" x2="395.9" y2="513.9" stroke="#222" stroke-width="1.2"/>
<line x1="441.5" y1="557.1" x2="441.5" y2="558.5" stroke="#888" stroke-width="1.2"/><line x1="435.2" y1="557.1" x2="447.8" y2="557.1" stroke="#888" stroke-width="1.2"/><line x1="435.2" y1="558.5" x2="447.8" y2="558.5" stroke="#888" stroke-width="1.2"/>
<line x1="467.8" y1="548.3" x2="467.8" y2="553.6" stroke="#222" stroke-width="1.2"/><line x1="461" y1="548.3" x2="474.5" y2="548.3" stroke="#222" stroke-width="1.2"/><line x1="461" y1="553.6" x2="474.5" y2="553.6" stroke="#222" stroke-width="1.2"/>
<rect x="458.9" y="485.8" width="19.9" height="9.7" fill="#000"/>
<rect x="458.9" y="507.6" width="19.9" height="9.4" fill="#898989"/>
<text x="485.4" y="495.9" font-size="12" text-anchor="start" fill="#000" stroke="#000" stroke-width="0.3">- NO</text>
<text x="485.6" y="517.3" font-size="12" text-anchor="start" fill="#000" stroke="#000" stroke-width="0.3">+ NO</text>
<text x="380.1" y="654.4" font-size="12" text-anchor="middle" fill="#000" stroke="#000" stroke-width="0.3">platelets</text>
<text x="458.9" y="654.4" font-size="12" text-anchor="middle" fill="#000" stroke="#000" stroke-width="0.3">platelets</text>
<text x="458.4" y="668.3" font-size="12" text-anchor="middle" fill="#000" stroke="#000" stroke-width="0.3">+TSP1</text>
<text transform="translate(304.7 567.2) rotate(-90)" font-size="12" text-anchor="middle" fill="#000" stroke="#000" stroke-width="0.3">cGMP (% control)</text>
</svg></body></html>
